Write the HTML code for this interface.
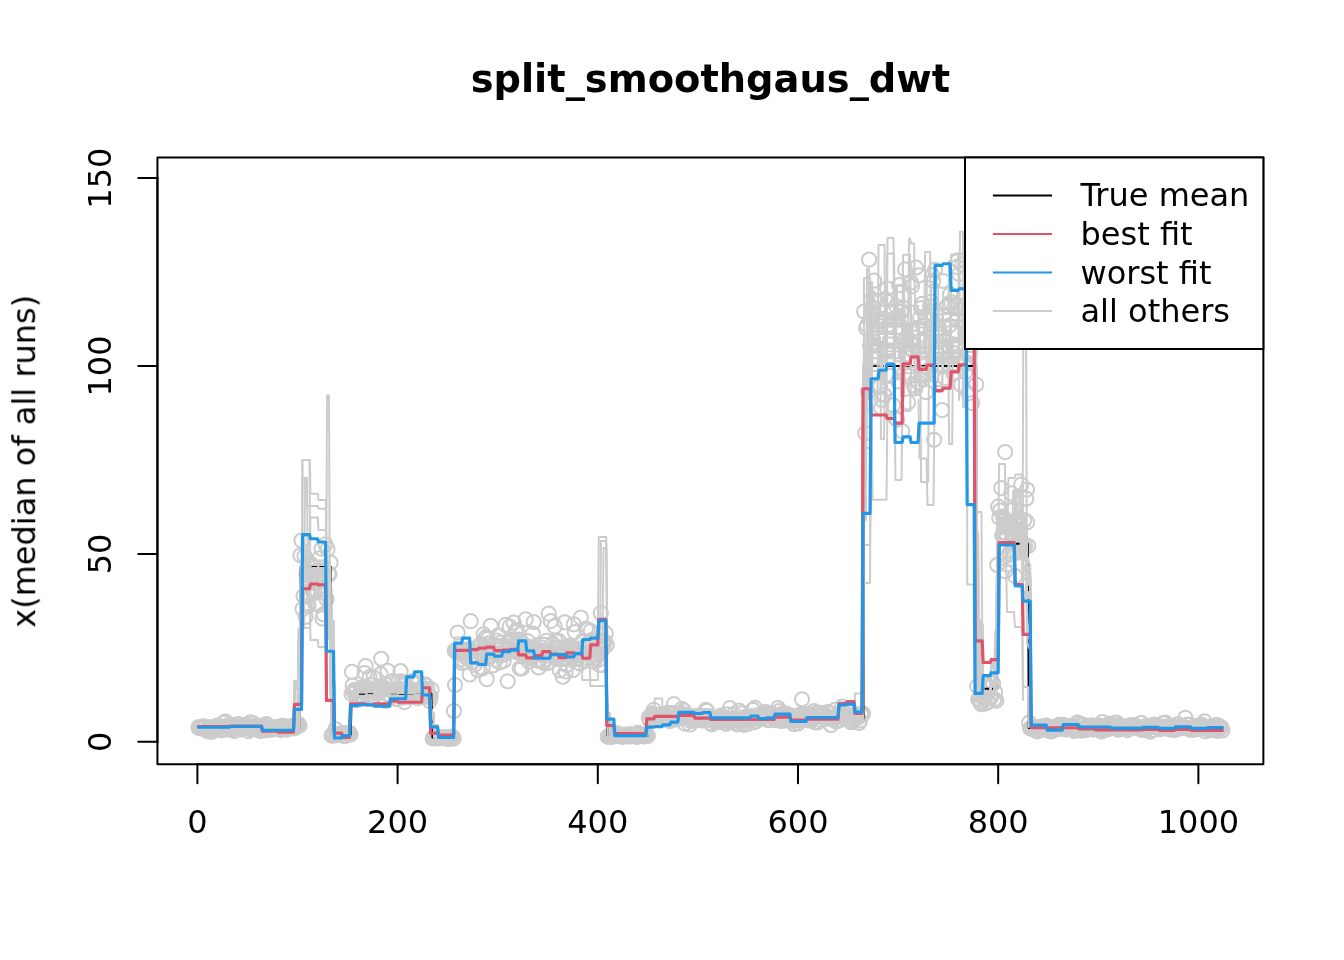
<!DOCTYPE html><html><head><meta charset="utf-8"><title>split_smoothgaus_dwt</title><style>html,body{margin:0;padding:0;background:#fff}svg{display:block}</style></head><body>
<svg width="1344" height="960" viewBox="0 0 1344 960">
<rect width="1344" height="960" fill="#fff"/>
<defs><clipPath id="c"><rect x="157.44" y="157.44" width="1105.92" height="606.72"/></clipPath></defs>
<g clip-path="url(#c)" fill="none" stroke-linejoin="round" stroke-linecap="round">
<g stroke="#cccccc" stroke-width="2"><circle cx="198.4" cy="727.4" r="7.1"/><circle cx="199.4" cy="727.9" r="7.1"/><circle cx="200.4" cy="728.3" r="7.1"/><circle cx="201.4" cy="727.3" r="7.1"/><circle cx="202.4" cy="728.3" r="7.1"/><circle cx="203.4" cy="726.4" r="7.1"/><circle cx="204.4" cy="727.2" r="7.1"/><circle cx="205.4" cy="727.4" r="7.1"/><circle cx="206.4" cy="729.9" r="7.1"/><circle cx="207.4" cy="730.9" r="7.1"/><circle cx="208.4" cy="730.8" r="7.1"/><circle cx="209.4" cy="729.8" r="7.1"/><circle cx="210.4" cy="727.1" r="7.1"/><circle cx="211.4" cy="731.9" r="7.1"/><circle cx="212.4" cy="727.5" r="7.1"/><circle cx="213.4" cy="730.3" r="7.1"/><circle cx="214.4" cy="727.1" r="7.1"/><circle cx="215.4" cy="729.0" r="7.1"/><circle cx="216.4" cy="728.9" r="7.1"/><circle cx="217.4" cy="725.5" r="7.1"/><circle cx="218.4" cy="727.6" r="7.1"/><circle cx="219.4" cy="727.2" r="7.1"/><circle cx="220.4" cy="727.2" r="7.1"/><circle cx="221.4" cy="730.3" r="7.1"/><circle cx="222.4" cy="727.1" r="7.1"/><circle cx="223.4" cy="722.9" r="7.1"/><circle cx="224.4" cy="729.7" r="7.1"/><circle cx="225.4" cy="721.6" r="7.1"/><circle cx="226.4" cy="725.9" r="7.1"/><circle cx="227.4" cy="726.0" r="7.1"/><circle cx="228.4" cy="728.7" r="7.1"/><circle cx="229.4" cy="728.3" r="7.1"/><circle cx="230.4" cy="729.6" r="7.1"/><circle cx="231.4" cy="727.8" r="7.1"/><circle cx="232.4" cy="724.9" r="7.1"/><circle cx="233.4" cy="728.9" r="7.1"/><circle cx="234.4" cy="731.0" r="7.1"/><circle cx="235.4" cy="727.6" r="7.1"/><circle cx="236.4" cy="725.9" r="7.1"/><circle cx="237.4" cy="728.1" r="7.1"/><circle cx="238.4" cy="724.1" r="7.1"/><circle cx="239.4" cy="728.0" r="7.1"/><circle cx="240.4" cy="727.6" r="7.1"/><circle cx="241.4" cy="729.5" r="7.1"/><circle cx="242.4" cy="728.3" r="7.1"/><circle cx="243.4" cy="726.0" r="7.1"/><circle cx="244.4" cy="726.0" r="7.1"/><circle cx="245.4" cy="725.1" r="7.1"/><circle cx="246.4" cy="726.2" r="7.1"/><circle cx="247.4" cy="726.7" r="7.1"/><circle cx="248.4" cy="731.1" r="7.1"/><circle cx="249.5" cy="729.1" r="7.1"/><circle cx="250.5" cy="722.3" r="7.1"/><circle cx="251.5" cy="728.6" r="7.1"/><circle cx="252.5" cy="726.4" r="7.1"/><circle cx="253.5" cy="723.4" r="7.1"/><circle cx="254.5" cy="726.3" r="7.1"/><circle cx="255.5" cy="727.5" r="7.1"/><circle cx="256.5" cy="729.4" r="7.1"/><circle cx="257.5" cy="729.0" r="7.1"/><circle cx="258.5" cy="727.0" r="7.1"/><circle cx="259.5" cy="728.5" r="7.1"/><circle cx="260.5" cy="731.1" r="7.1"/><circle cx="261.5" cy="726.6" r="7.1"/><circle cx="262.5" cy="725.6" r="7.1"/><circle cx="263.5" cy="725.8" r="7.1"/><circle cx="264.5" cy="725.7" r="7.1"/><circle cx="265.5" cy="730.3" r="7.1"/><circle cx="266.5" cy="724.2" r="7.1"/><circle cx="267.5" cy="727.9" r="7.1"/><circle cx="268.5" cy="729.3" r="7.1"/><circle cx="269.5" cy="728.4" r="7.1"/><circle cx="270.5" cy="728.9" r="7.1"/><circle cx="271.5" cy="729.8" r="7.1"/><circle cx="272.5" cy="727.7" r="7.1"/><circle cx="273.5" cy="727.3" r="7.1"/><circle cx="274.5" cy="728.0" r="7.1"/><circle cx="275.5" cy="727.4" r="7.1"/><circle cx="276.5" cy="728.0" r="7.1"/><circle cx="277.5" cy="728.9" r="7.1"/><circle cx="278.5" cy="728.7" r="7.1"/><circle cx="279.5" cy="726.7" r="7.1"/><circle cx="280.5" cy="730.1" r="7.1"/><circle cx="281.5" cy="728.6" r="7.1"/><circle cx="282.5" cy="725.8" r="7.1"/><circle cx="283.5" cy="727.2" r="7.1"/><circle cx="284.5" cy="726.4" r="7.1"/><circle cx="285.5" cy="727.7" r="7.1"/><circle cx="286.5" cy="729.7" r="7.1"/><circle cx="287.5" cy="728.4" r="7.1"/><circle cx="288.5" cy="727.4" r="7.1"/><circle cx="289.5" cy="728.4" r="7.1"/><circle cx="290.5" cy="728.0" r="7.1"/><circle cx="291.5" cy="727.3" r="7.1"/><circle cx="292.5" cy="725.9" r="7.1"/><circle cx="293.5" cy="728.5" r="7.1"/><circle cx="294.5" cy="725.4" r="7.1"/><circle cx="295.5" cy="727.7" r="7.1"/><circle cx="296.5" cy="725.7" r="7.1"/><circle cx="297.5" cy="725.4" r="7.1"/><circle cx="298.5" cy="724.1" r="7.1"/><circle cx="299.5" cy="725.6" r="7.1"/><circle cx="300.5" cy="555.3" r="7.1"/><circle cx="301.5" cy="540.6" r="7.1"/><circle cx="302.5" cy="609.1" r="7.1"/><circle cx="303.5" cy="596.1" r="7.1"/><circle cx="304.5" cy="556.1" r="7.1"/><circle cx="305.5" cy="616.8" r="7.1"/><circle cx="306.5" cy="574.1" r="7.1"/><circle cx="307.5" cy="574.2" r="7.1"/><circle cx="308.5" cy="605.8" r="7.1"/><circle cx="309.5" cy="595.3" r="7.1"/><circle cx="310.5" cy="563.8" r="7.1"/><circle cx="311.5" cy="566.0" r="7.1"/><circle cx="312.5" cy="588.9" r="7.1"/><circle cx="313.5" cy="593.6" r="7.1"/><circle cx="314.5" cy="591.5" r="7.1"/><circle cx="315.5" cy="567.5" r="7.1"/><circle cx="316.5" cy="603.5" r="7.1"/><circle cx="317.5" cy="577.0" r="7.1"/><circle cx="318.5" cy="604.6" r="7.1"/><circle cx="319.5" cy="558.3" r="7.1"/><circle cx="320.5" cy="573.3" r="7.1"/><circle cx="321.5" cy="548.7" r="7.1"/><circle cx="322.5" cy="618.4" r="7.1"/><circle cx="323.5" cy="614.3" r="7.1"/><circle cx="324.5" cy="589.5" r="7.1"/><circle cx="325.5" cy="544.3" r="7.1"/><circle cx="326.5" cy="599.2" r="7.1"/><circle cx="327.5" cy="549.2" r="7.1"/><circle cx="328.5" cy="574.0" r="7.1"/><circle cx="329.5" cy="574.2" r="7.1"/><circle cx="330.5" cy="562.7" r="7.1"/><circle cx="331.5" cy="735.5" r="7.1"/><circle cx="332.5" cy="735.1" r="7.1"/><circle cx="333.5" cy="735.7" r="7.1"/><circle cx="334.5" cy="734.5" r="7.1"/><circle cx="335.5" cy="729.1" r="7.1"/><circle cx="336.5" cy="734.9" r="7.1"/><circle cx="337.5" cy="734.1" r="7.1"/><circle cx="338.5" cy="734.2" r="7.1"/><circle cx="339.5" cy="734.4" r="7.1"/><circle cx="340.5" cy="734.7" r="7.1"/><circle cx="341.5" cy="733.2" r="7.1"/><circle cx="342.5" cy="734.5" r="7.1"/><circle cx="343.5" cy="735.0" r="7.1"/><circle cx="344.5" cy="736.2" r="7.1"/><circle cx="345.5" cy="733.4" r="7.1"/><circle cx="346.5" cy="733.7" r="7.1"/><circle cx="347.5" cy="734.2" r="7.1"/><circle cx="348.5" cy="734.7" r="7.1"/><circle cx="349.5" cy="732.8" r="7.1"/><circle cx="350.5" cy="734.5" r="7.1"/><circle cx="351.6" cy="693.8" r="7.1"/><circle cx="352.6" cy="685.5" r="7.1"/><circle cx="353.6" cy="691.8" r="7.1"/><circle cx="354.6" cy="689.8" r="7.1"/><circle cx="355.6" cy="692.1" r="7.1"/><circle cx="356.6" cy="690.9" r="7.1"/><circle cx="357.6" cy="700.2" r="7.1"/><circle cx="358.6" cy="695.3" r="7.1"/><circle cx="359.6" cy="694.8" r="7.1"/><circle cx="360.6" cy="698.8" r="7.1"/><circle cx="361.6" cy="691.6" r="7.1"/><circle cx="362.6" cy="687.9" r="7.1"/><circle cx="363.6" cy="696.3" r="7.1"/><circle cx="364.6" cy="673.0" r="7.1"/><circle cx="365.6" cy="666.1" r="7.1"/><circle cx="366.6" cy="686.9" r="7.1"/><circle cx="367.6" cy="697.0" r="7.1"/><circle cx="368.6" cy="695.7" r="7.1"/><circle cx="369.6" cy="677.2" r="7.1"/><circle cx="370.6" cy="685.1" r="7.1"/><circle cx="371.6" cy="690.7" r="7.1"/><circle cx="372.6" cy="698.7" r="7.1"/><circle cx="373.6" cy="677.6" r="7.1"/><circle cx="374.6" cy="695.9" r="7.1"/><circle cx="375.6" cy="692.9" r="7.1"/><circle cx="376.6" cy="690.8" r="7.1"/><circle cx="377.6" cy="687.1" r="7.1"/><circle cx="378.6" cy="689.6" r="7.1"/><circle cx="379.6" cy="689.9" r="7.1"/><circle cx="380.6" cy="674.2" r="7.1"/><circle cx="381.6" cy="688.9" r="7.1"/><circle cx="382.6" cy="686.4" r="7.1"/><circle cx="383.6" cy="699.0" r="7.1"/><circle cx="384.6" cy="683.9" r="7.1"/><circle cx="385.6" cy="700.9" r="7.1"/><circle cx="386.6" cy="694.1" r="7.1"/><circle cx="387.6" cy="670.8" r="7.1"/><circle cx="388.6" cy="694.8" r="7.1"/><circle cx="389.6" cy="689.7" r="7.1"/><circle cx="390.6" cy="697.3" r="7.1"/><circle cx="391.6" cy="697.3" r="7.1"/><circle cx="392.6" cy="681.1" r="7.1"/><circle cx="393.6" cy="692.7" r="7.1"/><circle cx="394.6" cy="690.3" r="7.1"/><circle cx="395.6" cy="691.8" r="7.1"/><circle cx="396.6" cy="699.2" r="7.1"/><circle cx="397.6" cy="690.7" r="7.1"/><circle cx="398.6" cy="681.6" r="7.1"/><circle cx="399.6" cy="694.9" r="7.1"/><circle cx="400.6" cy="671.2" r="7.1"/><circle cx="401.6" cy="681.3" r="7.1"/><circle cx="402.6" cy="697.7" r="7.1"/><circle cx="403.6" cy="683.1" r="7.1"/><circle cx="404.6" cy="702.1" r="7.1"/><circle cx="405.6" cy="684.8" r="7.1"/><circle cx="406.6" cy="692.1" r="7.1"/><circle cx="407.6" cy="697.2" r="7.1"/><circle cx="408.6" cy="690.6" r="7.1"/><circle cx="409.6" cy="693.9" r="7.1"/><circle cx="410.6" cy="690.8" r="7.1"/><circle cx="411.6" cy="681.7" r="7.1"/><circle cx="412.6" cy="681.0" r="7.1"/><circle cx="413.6" cy="696.6" r="7.1"/><circle cx="414.6" cy="692.6" r="7.1"/><circle cx="415.6" cy="693.1" r="7.1"/><circle cx="416.6" cy="691.5" r="7.1"/><circle cx="417.6" cy="698.2" r="7.1"/><circle cx="418.6" cy="682.5" r="7.1"/><circle cx="419.6" cy="689.3" r="7.1"/><circle cx="420.6" cy="696.2" r="7.1"/><circle cx="421.6" cy="693.0" r="7.1"/><circle cx="422.6" cy="694.8" r="7.1"/><circle cx="423.6" cy="690.9" r="7.1"/><circle cx="424.6" cy="684.8" r="7.1"/><circle cx="425.6" cy="684.7" r="7.1"/><circle cx="426.6" cy="696.9" r="7.1"/><circle cx="427.6" cy="688.9" r="7.1"/><circle cx="428.6" cy="695.7" r="7.1"/><circle cx="429.6" cy="701.0" r="7.1"/><circle cx="430.6" cy="696.9" r="7.1"/><circle cx="431.6" cy="689.7" r="7.1"/><circle cx="432.6" cy="738.4" r="7.1"/><circle cx="433.6" cy="738.0" r="7.1"/><circle cx="434.6" cy="737.3" r="7.1"/><circle cx="435.6" cy="737.9" r="7.1"/><circle cx="436.6" cy="738.0" r="7.1"/><circle cx="437.6" cy="738.1" r="7.1"/><circle cx="438.6" cy="738.5" r="7.1"/><circle cx="439.6" cy="737.7" r="7.1"/><circle cx="440.6" cy="737.5" r="7.1"/><circle cx="441.6" cy="737.5" r="7.1"/><circle cx="442.6" cy="738.1" r="7.1"/><circle cx="443.6" cy="738.1" r="7.1"/><circle cx="444.6" cy="737.1" r="7.1"/><circle cx="445.6" cy="738.1" r="7.1"/><circle cx="446.6" cy="737.7" r="7.1"/><circle cx="447.6" cy="739.0" r="7.1"/><circle cx="448.6" cy="738.1" r="7.1"/><circle cx="449.6" cy="738.1" r="7.1"/><circle cx="450.6" cy="738.4" r="7.1"/><circle cx="451.6" cy="736.6" r="7.1"/><circle cx="452.6" cy="736.8" r="7.1"/><circle cx="453.7" cy="738.6" r="7.1"/><circle cx="454.7" cy="650.6" r="7.1"/><circle cx="455.7" cy="651.4" r="7.1"/><circle cx="456.7" cy="651.1" r="7.1"/><circle cx="457.7" cy="632.6" r="7.1"/><circle cx="458.7" cy="652.0" r="7.1"/><circle cx="459.7" cy="651.0" r="7.1"/><circle cx="460.7" cy="659.4" r="7.1"/><circle cx="461.7" cy="663.0" r="7.1"/><circle cx="462.7" cy="651.5" r="7.1"/><circle cx="463.7" cy="652.5" r="7.1"/><circle cx="464.7" cy="661.9" r="7.1"/><circle cx="465.7" cy="657.1" r="7.1"/><circle cx="466.7" cy="650.3" r="7.1"/><circle cx="467.7" cy="649.3" r="7.1"/><circle cx="468.7" cy="657.9" r="7.1"/><circle cx="469.7" cy="674.4" r="7.1"/><circle cx="470.7" cy="621.2" r="7.1"/><circle cx="471.7" cy="655.6" r="7.1"/><circle cx="472.7" cy="662.2" r="7.1"/><circle cx="473.7" cy="657.1" r="7.1"/><circle cx="474.7" cy="664.8" r="7.1"/><circle cx="475.7" cy="648.3" r="7.1"/><circle cx="476.7" cy="655.7" r="7.1"/><circle cx="477.7" cy="670.0" r="7.1"/><circle cx="478.7" cy="647.0" r="7.1"/><circle cx="479.7" cy="645.2" r="7.1"/><circle cx="480.7" cy="653.5" r="7.1"/><circle cx="481.7" cy="644.5" r="7.1"/><circle cx="482.7" cy="668.3" r="7.1"/><circle cx="483.7" cy="634.3" r="7.1"/><circle cx="484.7" cy="647.2" r="7.1"/><circle cx="485.7" cy="637.5" r="7.1"/><circle cx="486.7" cy="679.1" r="7.1"/><circle cx="487.7" cy="638.8" r="7.1"/><circle cx="488.7" cy="658.1" r="7.1"/><circle cx="489.7" cy="654.9" r="7.1"/><circle cx="490.7" cy="625.8" r="7.1"/><circle cx="491.7" cy="651.5" r="7.1"/><circle cx="492.7" cy="665.5" r="7.1"/><circle cx="493.7" cy="644.6" r="7.1"/><circle cx="494.7" cy="648.8" r="7.1"/><circle cx="495.7" cy="659.8" r="7.1"/><circle cx="496.7" cy="640.5" r="7.1"/><circle cx="497.7" cy="635.7" r="7.1"/><circle cx="498.7" cy="654.1" r="7.1"/><circle cx="499.7" cy="662.5" r="7.1"/><circle cx="500.7" cy="642.5" r="7.1"/><circle cx="501.7" cy="646.2" r="7.1"/><circle cx="502.7" cy="654.8" r="7.1"/><circle cx="503.7" cy="660.9" r="7.1"/><circle cx="504.7" cy="654.4" r="7.1"/><circle cx="505.7" cy="624.9" r="7.1"/><circle cx="506.7" cy="650.4" r="7.1"/><circle cx="507.7" cy="681.3" r="7.1"/><circle cx="508.7" cy="643.0" r="7.1"/><circle cx="509.7" cy="626.5" r="7.1"/><circle cx="510.7" cy="646.1" r="7.1"/><circle cx="511.7" cy="639.7" r="7.1"/><circle cx="512.7" cy="650.7" r="7.1"/><circle cx="513.7" cy="622.6" r="7.1"/><circle cx="514.7" cy="650.8" r="7.1"/><circle cx="515.7" cy="631.8" r="7.1"/><circle cx="516.7" cy="630.0" r="7.1"/><circle cx="517.7" cy="652.6" r="7.1"/><circle cx="518.7" cy="639.7" r="7.1"/><circle cx="519.7" cy="668.3" r="7.1"/><circle cx="520.7" cy="645.8" r="7.1"/><circle cx="521.7" cy="668.4" r="7.1"/><circle cx="522.7" cy="643.7" r="7.1"/><circle cx="523.7" cy="656.2" r="7.1"/><circle cx="524.7" cy="653.3" r="7.1"/><circle cx="525.7" cy="619.3" r="7.1"/><circle cx="526.7" cy="647.5" r="7.1"/><circle cx="527.7" cy="641.2" r="7.1"/><circle cx="528.7" cy="661.6" r="7.1"/><circle cx="529.7" cy="654.6" r="7.1"/><circle cx="530.7" cy="647.4" r="7.1"/><circle cx="531.7" cy="658.1" r="7.1"/><circle cx="532.7" cy="633.7" r="7.1"/><circle cx="533.7" cy="622.0" r="7.1"/><circle cx="534.7" cy="647.4" r="7.1"/><circle cx="535.7" cy="651.8" r="7.1"/><circle cx="536.7" cy="648.7" r="7.1"/><circle cx="537.7" cy="660.5" r="7.1"/><circle cx="538.7" cy="667.5" r="7.1"/><circle cx="539.7" cy="659.6" r="7.1"/><circle cx="540.7" cy="647.4" r="7.1"/><circle cx="541.7" cy="654.4" r="7.1"/><circle cx="542.7" cy="661.2" r="7.1"/><circle cx="543.7" cy="662.8" r="7.1"/><circle cx="544.7" cy="650.6" r="7.1"/><circle cx="545.7" cy="654.7" r="7.1"/><circle cx="546.7" cy="640.9" r="7.1"/><circle cx="547.7" cy="662.9" r="7.1"/><circle cx="548.7" cy="613.6" r="7.1"/><circle cx="549.7" cy="651.6" r="7.1"/><circle cx="550.7" cy="621.1" r="7.1"/><circle cx="551.7" cy="654.8" r="7.1"/><circle cx="552.7" cy="643.7" r="7.1"/><circle cx="553.7" cy="656.6" r="7.1"/><circle cx="554.7" cy="626.4" r="7.1"/><circle cx="555.8" cy="641.1" r="7.1"/><circle cx="556.8" cy="659.1" r="7.1"/><circle cx="557.8" cy="652.7" r="7.1"/><circle cx="558.8" cy="641.1" r="7.1"/><circle cx="559.8" cy="670.3" r="7.1"/><circle cx="560.8" cy="659.4" r="7.1"/><circle cx="561.8" cy="657.8" r="7.1"/><circle cx="562.8" cy="676.8" r="7.1"/><circle cx="563.8" cy="646.9" r="7.1"/><circle cx="564.8" cy="622.3" r="7.1"/><circle cx="565.8" cy="671.5" r="7.1"/><circle cx="566.8" cy="664.9" r="7.1"/><circle cx="567.8" cy="649.2" r="7.1"/><circle cx="568.8" cy="645.7" r="7.1"/><circle cx="569.8" cy="646.3" r="7.1"/><circle cx="570.8" cy="654.2" r="7.1"/><circle cx="571.8" cy="657.0" r="7.1"/><circle cx="572.8" cy="670.2" r="7.1"/><circle cx="573.8" cy="624.3" r="7.1"/><circle cx="574.8" cy="632.1" r="7.1"/><circle cx="575.8" cy="658.6" r="7.1"/><circle cx="576.8" cy="650.9" r="7.1"/><circle cx="577.8" cy="653.9" r="7.1"/><circle cx="578.8" cy="655.7" r="7.1"/><circle cx="579.8" cy="663.5" r="7.1"/><circle cx="580.8" cy="617.6" r="7.1"/><circle cx="581.8" cy="653.2" r="7.1"/><circle cx="582.8" cy="640.8" r="7.1"/><circle cx="583.8" cy="652.8" r="7.1"/><circle cx="584.8" cy="646.7" r="7.1"/><circle cx="585.8" cy="628.7" r="7.1"/><circle cx="586.8" cy="649.1" r="7.1"/><circle cx="587.8" cy="629.7" r="7.1"/><circle cx="588.8" cy="658.6" r="7.1"/><circle cx="589.8" cy="641.4" r="7.1"/><circle cx="590.8" cy="631.1" r="7.1"/><circle cx="591.8" cy="640.2" r="7.1"/><circle cx="592.8" cy="658.5" r="7.1"/><circle cx="593.8" cy="661.5" r="7.1"/><circle cx="594.8" cy="654.9" r="7.1"/><circle cx="595.8" cy="658.3" r="7.1"/><circle cx="596.8" cy="646.1" r="7.1"/><circle cx="597.8" cy="652.7" r="7.1"/><circle cx="598.8" cy="659.6" r="7.1"/><circle cx="599.8" cy="665.0" r="7.1"/><circle cx="600.8" cy="613.0" r="7.1"/><circle cx="601.8" cy="650.9" r="7.1"/><circle cx="602.8" cy="640.9" r="7.1"/><circle cx="603.8" cy="645.5" r="7.1"/><circle cx="604.8" cy="641.8" r="7.1"/><circle cx="605.8" cy="633.4" r="7.1"/><circle cx="606.8" cy="645.1" r="7.1"/><circle cx="607.8" cy="736.8" r="7.1"/><circle cx="608.8" cy="735.9" r="7.1"/><circle cx="609.8" cy="736.7" r="7.1"/><circle cx="610.8" cy="735.5" r="7.1"/><circle cx="611.8" cy="737.0" r="7.1"/><circle cx="612.8" cy="735.7" r="7.1"/><circle cx="613.8" cy="735.6" r="7.1"/><circle cx="614.8" cy="735.2" r="7.1"/><circle cx="615.8" cy="735.7" r="7.1"/><circle cx="616.8" cy="733.1" r="7.1"/><circle cx="617.8" cy="736.0" r="7.1"/><circle cx="618.8" cy="734.9" r="7.1"/><circle cx="619.8" cy="736.1" r="7.1"/><circle cx="620.8" cy="736.4" r="7.1"/><circle cx="621.8" cy="736.0" r="7.1"/><circle cx="622.8" cy="736.8" r="7.1"/><circle cx="623.8" cy="735.5" r="7.1"/><circle cx="624.8" cy="734.6" r="7.1"/><circle cx="625.8" cy="734.9" r="7.1"/><circle cx="626.8" cy="735.7" r="7.1"/><circle cx="627.8" cy="735.1" r="7.1"/><circle cx="628.8" cy="736.6" r="7.1"/><circle cx="629.8" cy="734.3" r="7.1"/><circle cx="630.8" cy="734.6" r="7.1"/><circle cx="631.8" cy="734.8" r="7.1"/><circle cx="632.8" cy="735.8" r="7.1"/><circle cx="633.8" cy="735.0" r="7.1"/><circle cx="634.8" cy="735.7" r="7.1"/><circle cx="635.8" cy="734.5" r="7.1"/><circle cx="636.8" cy="737.0" r="7.1"/><circle cx="637.8" cy="732.9" r="7.1"/><circle cx="638.8" cy="734.4" r="7.1"/><circle cx="639.8" cy="734.9" r="7.1"/><circle cx="640.8" cy="734.9" r="7.1"/><circle cx="641.8" cy="734.9" r="7.1"/><circle cx="642.8" cy="735.5" r="7.1"/><circle cx="643.8" cy="736.4" r="7.1"/><circle cx="644.8" cy="735.2" r="7.1"/><circle cx="645.8" cy="736.0" r="7.1"/><circle cx="646.8" cy="735.9" r="7.1"/><circle cx="647.8" cy="735.8" r="7.1"/><circle cx="648.8" cy="717.6" r="7.1"/><circle cx="649.8" cy="720.6" r="7.1"/><circle cx="650.8" cy="715.2" r="7.1"/><circle cx="651.8" cy="716.9" r="7.1"/><circle cx="652.8" cy="713.4" r="7.1"/><circle cx="653.8" cy="709.9" r="7.1"/><circle cx="654.8" cy="714.9" r="7.1"/><circle cx="655.8" cy="717.1" r="7.1"/><circle cx="656.8" cy="715.0" r="7.1"/><circle cx="657.8" cy="717.7" r="7.1"/><circle cx="658.9" cy="716.9" r="7.1"/><circle cx="659.9" cy="716.5" r="7.1"/><circle cx="660.9" cy="717.4" r="7.1"/><circle cx="661.9" cy="719.2" r="7.1"/><circle cx="662.9" cy="714.3" r="7.1"/><circle cx="663.9" cy="717.0" r="7.1"/><circle cx="664.9" cy="713.8" r="7.1"/><circle cx="665.9" cy="719.8" r="7.1"/><circle cx="666.9" cy="716.4" r="7.1"/><circle cx="667.9" cy="713.2" r="7.1"/><circle cx="668.9" cy="713.2" r="7.1"/><circle cx="669.9" cy="721.1" r="7.1"/><circle cx="670.9" cy="717.8" r="7.1"/><circle cx="671.9" cy="718.7" r="7.1"/><circle cx="672.9" cy="713.2" r="7.1"/><circle cx="673.9" cy="704.2" r="7.1"/><circle cx="674.9" cy="719.6" r="7.1"/><circle cx="675.9" cy="717.6" r="7.1"/><circle cx="676.9" cy="719.1" r="7.1"/><circle cx="677.9" cy="717.4" r="7.1"/><circle cx="678.9" cy="718.9" r="7.1"/><circle cx="679.9" cy="716.8" r="7.1"/><circle cx="680.9" cy="713.2" r="7.1"/><circle cx="681.9" cy="708.9" r="7.1"/><circle cx="682.9" cy="714.6" r="7.1"/><circle cx="683.9" cy="710.6" r="7.1"/><circle cx="684.9" cy="723.6" r="7.1"/><circle cx="685.9" cy="715.2" r="7.1"/><circle cx="686.9" cy="714.9" r="7.1"/><circle cx="687.9" cy="715.9" r="7.1"/><circle cx="688.9" cy="717.8" r="7.1"/><circle cx="689.9" cy="724.4" r="7.1"/><circle cx="690.9" cy="720.9" r="7.1"/><circle cx="691.9" cy="718.3" r="7.1"/><circle cx="692.9" cy="716.2" r="7.1"/><circle cx="693.9" cy="720.5" r="7.1"/><circle cx="694.9" cy="717.6" r="7.1"/><circle cx="695.9" cy="718.0" r="7.1"/><circle cx="696.9" cy="718.0" r="7.1"/><circle cx="697.9" cy="717.4" r="7.1"/><circle cx="698.9" cy="715.5" r="7.1"/><circle cx="699.9" cy="718.6" r="7.1"/><circle cx="700.9" cy="718.0" r="7.1"/><circle cx="701.9" cy="720.4" r="7.1"/><circle cx="702.9" cy="718.8" r="7.1"/><circle cx="703.9" cy="720.2" r="7.1"/><circle cx="704.9" cy="716.1" r="7.1"/><circle cx="705.9" cy="709.9" r="7.1"/><circle cx="706.9" cy="710.9" r="7.1"/><circle cx="707.9" cy="719.7" r="7.1"/><circle cx="708.9" cy="716.0" r="7.1"/><circle cx="709.9" cy="717.3" r="7.1"/><circle cx="710.9" cy="723.2" r="7.1"/><circle cx="711.9" cy="724.3" r="7.1"/><circle cx="712.9" cy="719.9" r="7.1"/><circle cx="713.9" cy="718.2" r="7.1"/><circle cx="714.9" cy="722.1" r="7.1"/><circle cx="715.9" cy="721.0" r="7.1"/><circle cx="716.9" cy="720.6" r="7.1"/><circle cx="717.9" cy="720.9" r="7.1"/><circle cx="718.9" cy="721.9" r="7.1"/><circle cx="719.9" cy="718.6" r="7.1"/><circle cx="720.9" cy="715.5" r="7.1"/><circle cx="721.9" cy="716.8" r="7.1"/><circle cx="722.9" cy="720.7" r="7.1"/><circle cx="723.9" cy="718.3" r="7.1"/><circle cx="724.9" cy="717.6" r="7.1"/><circle cx="725.9" cy="723.7" r="7.1"/><circle cx="726.9" cy="714.4" r="7.1"/><circle cx="727.9" cy="720.1" r="7.1"/><circle cx="728.9" cy="721.9" r="7.1"/><circle cx="729.9" cy="708.2" r="7.1"/><circle cx="730.9" cy="721.1" r="7.1"/><circle cx="731.9" cy="718.9" r="7.1"/><circle cx="732.9" cy="720.2" r="7.1"/><circle cx="733.9" cy="714.3" r="7.1"/><circle cx="734.9" cy="718.7" r="7.1"/><circle cx="735.9" cy="722.4" r="7.1"/><circle cx="736.9" cy="724.3" r="7.1"/><circle cx="737.9" cy="719.6" r="7.1"/><circle cx="738.9" cy="710.5" r="7.1"/><circle cx="739.9" cy="721.2" r="7.1"/><circle cx="740.9" cy="713.3" r="7.1"/><circle cx="741.9" cy="720.6" r="7.1"/><circle cx="742.9" cy="722.6" r="7.1"/><circle cx="743.9" cy="724.8" r="7.1"/><circle cx="744.9" cy="718.4" r="7.1"/><circle cx="745.9" cy="716.9" r="7.1"/><circle cx="746.9" cy="718.2" r="7.1"/><circle cx="747.9" cy="724.1" r="7.1"/><circle cx="748.9" cy="719.9" r="7.1"/><circle cx="749.9" cy="716.7" r="7.1"/><circle cx="750.9" cy="719.6" r="7.1"/><circle cx="751.9" cy="716.3" r="7.1"/><circle cx="752.9" cy="709.8" r="7.1"/><circle cx="753.9" cy="722.2" r="7.1"/><circle cx="754.9" cy="707.9" r="7.1"/><circle cx="755.9" cy="721.3" r="7.1"/><circle cx="756.9" cy="718.2" r="7.1"/><circle cx="757.9" cy="718.2" r="7.1"/><circle cx="758.9" cy="714.9" r="7.1"/><circle cx="759.9" cy="719.0" r="7.1"/><circle cx="761.0" cy="717.7" r="7.1"/><circle cx="762.0" cy="718.1" r="7.1"/><circle cx="763.0" cy="716.2" r="7.1"/><circle cx="764.0" cy="716.3" r="7.1"/><circle cx="765.0" cy="712.0" r="7.1"/><circle cx="766.0" cy="714.8" r="7.1"/><circle cx="767.0" cy="712.6" r="7.1"/><circle cx="768.0" cy="720.0" r="7.1"/><circle cx="769.0" cy="719.7" r="7.1"/><circle cx="770.0" cy="719.9" r="7.1"/><circle cx="771.0" cy="720.1" r="7.1"/><circle cx="772.0" cy="713.5" r="7.1"/><circle cx="773.0" cy="717.6" r="7.1"/><circle cx="774.0" cy="715.2" r="7.1"/><circle cx="775.0" cy="720.0" r="7.1"/><circle cx="776.0" cy="716.4" r="7.1"/><circle cx="777.0" cy="719.2" r="7.1"/><circle cx="778.0" cy="708.1" r="7.1"/><circle cx="779.0" cy="711.2" r="7.1"/><circle cx="780.0" cy="715.3" r="7.1"/><circle cx="781.0" cy="720.9" r="7.1"/><circle cx="782.0" cy="713.9" r="7.1"/><circle cx="783.0" cy="717.2" r="7.1"/><circle cx="784.0" cy="720.3" r="7.1"/><circle cx="785.0" cy="718.1" r="7.1"/><circle cx="786.0" cy="713.7" r="7.1"/><circle cx="787.0" cy="720.2" r="7.1"/><circle cx="788.0" cy="720.5" r="7.1"/><circle cx="789.0" cy="717.3" r="7.1"/><circle cx="790.0" cy="718.7" r="7.1"/><circle cx="791.0" cy="715.7" r="7.1"/><circle cx="792.0" cy="718.3" r="7.1"/><circle cx="793.0" cy="721.2" r="7.1"/><circle cx="794.0" cy="724.2" r="7.1"/><circle cx="795.0" cy="716.7" r="7.1"/><circle cx="796.0" cy="720.2" r="7.1"/><circle cx="797.0" cy="717.5" r="7.1"/><circle cx="798.0" cy="723.4" r="7.1"/><circle cx="799.0" cy="720.3" r="7.1"/><circle cx="800.0" cy="716.7" r="7.1"/><circle cx="801.0" cy="714.3" r="7.1"/><circle cx="802.0" cy="699.3" r="7.1"/><circle cx="803.0" cy="713.4" r="7.1"/><circle cx="804.0" cy="718.0" r="7.1"/><circle cx="805.0" cy="714.6" r="7.1"/><circle cx="806.0" cy="716.8" r="7.1"/><circle cx="807.0" cy="718.7" r="7.1"/><circle cx="808.0" cy="719.4" r="7.1"/><circle cx="809.0" cy="720.4" r="7.1"/><circle cx="810.0" cy="714.3" r="7.1"/><circle cx="811.0" cy="717.8" r="7.1"/><circle cx="812.0" cy="720.2" r="7.1"/><circle cx="813.0" cy="718.3" r="7.1"/><circle cx="814.0" cy="711.0" r="7.1"/><circle cx="815.0" cy="722.3" r="7.1"/><circle cx="816.0" cy="722.1" r="7.1"/><circle cx="817.0" cy="712.8" r="7.1"/><circle cx="818.0" cy="722.3" r="7.1"/><circle cx="819.0" cy="712.9" r="7.1"/><circle cx="820.0" cy="719.7" r="7.1"/><circle cx="821.0" cy="716.5" r="7.1"/><circle cx="822.0" cy="713.2" r="7.1"/><circle cx="823.0" cy="713.2" r="7.1"/><circle cx="824.0" cy="715.2" r="7.1"/><circle cx="825.0" cy="717.9" r="7.1"/><circle cx="826.0" cy="718.8" r="7.1"/><circle cx="827.0" cy="718.7" r="7.1"/><circle cx="828.0" cy="712.2" r="7.1"/><circle cx="829.0" cy="716.7" r="7.1"/><circle cx="830.0" cy="713.7" r="7.1"/><circle cx="831.0" cy="725.0" r="7.1"/><circle cx="832.0" cy="719.0" r="7.1"/><circle cx="833.0" cy="716.8" r="7.1"/><circle cx="834.0" cy="719.1" r="7.1"/><circle cx="835.0" cy="709.9" r="7.1"/><circle cx="836.0" cy="721.5" r="7.1"/><circle cx="837.0" cy="716.0" r="7.1"/><circle cx="838.0" cy="714.7" r="7.1"/><circle cx="839.0" cy="720.5" r="7.1"/><circle cx="840.0" cy="714.8" r="7.1"/><circle cx="841.0" cy="716.3" r="7.1"/><circle cx="842.0" cy="706.5" r="7.1"/><circle cx="843.0" cy="712.5" r="7.1"/><circle cx="844.0" cy="717.9" r="7.1"/><circle cx="845.0" cy="714.3" r="7.1"/><circle cx="846.0" cy="716.4" r="7.1"/><circle cx="847.0" cy="719.3" r="7.1"/><circle cx="848.0" cy="715.5" r="7.1"/><circle cx="849.0" cy="716.0" r="7.1"/><circle cx="850.0" cy="711.9" r="7.1"/><circle cx="851.0" cy="722.2" r="7.1"/><circle cx="852.0" cy="722.1" r="7.1"/><circle cx="853.0" cy="720.3" r="7.1"/><circle cx="854.0" cy="715.4" r="7.1"/><circle cx="855.0" cy="713.9" r="7.1"/><circle cx="856.0" cy="718.2" r="7.1"/><circle cx="857.0" cy="716.9" r="7.1"/><circle cx="858.0" cy="717.6" r="7.1"/><circle cx="859.0" cy="722.9" r="7.1"/><circle cx="860.0" cy="720.5" r="7.1"/><circle cx="861.0" cy="714.5" r="7.1"/><circle cx="862.0" cy="714.8" r="7.1"/><circle cx="863.1" cy="713.5" r="7.1"/><circle cx="864.1" cy="311.5" r="7.1"/><circle cx="865.1" cy="433.3" r="7.1"/><circle cx="866.1" cy="328.3" r="7.1"/><circle cx="867.1" cy="325.5" r="7.1"/><circle cx="868.1" cy="391.9" r="7.1"/><circle cx="869.1" cy="259.6" r="7.1"/><circle cx="870.1" cy="346.1" r="7.1"/><circle cx="871.1" cy="300.4" r="7.1"/><circle cx="872.1" cy="307.5" r="7.1"/><circle cx="873.1" cy="314.9" r="7.1"/><circle cx="874.1" cy="280.7" r="7.1"/><circle cx="875.1" cy="345.8" r="7.1"/><circle cx="876.1" cy="300.4" r="7.1"/><circle cx="877.1" cy="321.4" r="7.1"/><circle cx="878.1" cy="387.3" r="7.1"/><circle cx="879.1" cy="326.2" r="7.1"/><circle cx="880.1" cy="386.4" r="7.1"/><circle cx="881.1" cy="407.8" r="7.1"/><circle cx="882.1" cy="400.0" r="7.1"/><circle cx="883.1" cy="320.5" r="7.1"/><circle cx="884.1" cy="395.0" r="7.1"/><circle cx="885.1" cy="299.2" r="7.1"/><circle cx="886.1" cy="350.4" r="7.1"/><circle cx="887.1" cy="288.5" r="7.1"/><circle cx="888.1" cy="388.3" r="7.1"/><circle cx="889.1" cy="324.8" r="7.1"/><circle cx="890.1" cy="375.9" r="7.1"/><circle cx="891.1" cy="313.4" r="7.1"/><circle cx="892.1" cy="311.6" r="7.1"/><circle cx="893.1" cy="405.3" r="7.1"/><circle cx="894.1" cy="320.2" r="7.1"/><circle cx="895.1" cy="417.9" r="7.1"/><circle cx="896.1" cy="306.0" r="7.1"/><circle cx="897.1" cy="419.7" r="7.1"/><circle cx="898.1" cy="381.3" r="7.1"/><circle cx="899.1" cy="285.2" r="7.1"/><circle cx="900.1" cy="331.2" r="7.1"/><circle cx="901.1" cy="311.4" r="7.1"/><circle cx="902.1" cy="431.1" r="7.1"/><circle cx="903.1" cy="307.9" r="7.1"/><circle cx="904.1" cy="373.1" r="7.1"/><circle cx="905.1" cy="269.4" r="7.1"/><circle cx="906.1" cy="338.1" r="7.1"/><circle cx="907.1" cy="344.4" r="7.1"/><circle cx="908.1" cy="402.4" r="7.1"/><circle cx="909.1" cy="376.1" r="7.1"/><circle cx="910.1" cy="341.7" r="7.1"/><circle cx="911.1" cy="282.4" r="7.1"/><circle cx="912.1" cy="286.3" r="7.1"/><circle cx="913.1" cy="350.8" r="7.1"/><circle cx="914.1" cy="385.5" r="7.1"/><circle cx="915.1" cy="388.5" r="7.1"/><circle cx="916.1" cy="267.5" r="7.1"/><circle cx="917.1" cy="328.1" r="7.1"/><circle cx="918.1" cy="382.1" r="7.1"/><circle cx="919.1" cy="275.4" r="7.1"/><circle cx="920.1" cy="317.4" r="7.1"/><circle cx="921.1" cy="308.1" r="7.1"/><circle cx="922.1" cy="303.9" r="7.1"/><circle cx="923.1" cy="325.8" r="7.1"/><circle cx="924.1" cy="360.3" r="7.1"/><circle cx="925.1" cy="374.1" r="7.1"/><circle cx="926.1" cy="392.2" r="7.1"/><circle cx="927.1" cy="374.9" r="7.1"/><circle cx="928.1" cy="318.6" r="7.1"/><circle cx="929.1" cy="369.4" r="7.1"/><circle cx="930.1" cy="306.3" r="7.1"/><circle cx="931.1" cy="301.8" r="7.1"/><circle cx="932.1" cy="275.0" r="7.1"/><circle cx="933.1" cy="280.9" r="7.1"/><circle cx="934.1" cy="439.8" r="7.1"/><circle cx="935.1" cy="269.9" r="7.1"/><circle cx="936.1" cy="330.4" r="7.1"/><circle cx="937.1" cy="333.1" r="7.1"/><circle cx="938.1" cy="364.3" r="7.1"/><circle cx="939.1" cy="328.2" r="7.1"/><circle cx="940.1" cy="334.0" r="7.1"/><circle cx="941.1" cy="365.6" r="7.1"/><circle cx="942.1" cy="410.1" r="7.1"/><circle cx="943.1" cy="281.0" r="7.1"/><circle cx="944.1" cy="315.4" r="7.1"/><circle cx="945.1" cy="378.2" r="7.1"/><circle cx="946.1" cy="357.8" r="7.1"/><circle cx="947.1" cy="306.0" r="7.1"/><circle cx="948.1" cy="360.2" r="7.1"/><circle cx="949.1" cy="325.7" r="7.1"/><circle cx="950.1" cy="294.2" r="7.1"/><circle cx="951.1" cy="302.2" r="7.1"/><circle cx="952.1" cy="344.2" r="7.1"/><circle cx="953.1" cy="372.9" r="7.1"/><circle cx="954.1" cy="353.1" r="7.1"/><circle cx="955.1" cy="306.4" r="7.1"/><circle cx="956.1" cy="345.2" r="7.1"/><circle cx="957.1" cy="266.9" r="7.1"/><circle cx="958.1" cy="260.4" r="7.1"/><circle cx="959.1" cy="273.9" r="7.1"/><circle cx="960.1" cy="307.5" r="7.1"/><circle cx="961.1" cy="384.9" r="7.1"/><circle cx="962.1" cy="264.5" r="7.1"/><circle cx="963.1" cy="305.5" r="7.1"/><circle cx="964.1" cy="363.8" r="7.1"/><circle cx="965.2" cy="372.2" r="7.1"/><circle cx="966.2" cy="362.3" r="7.1"/><circle cx="967.2" cy="331.2" r="7.1"/><circle cx="968.2" cy="393.3" r="7.1"/><circle cx="969.2" cy="287.4" r="7.1"/><circle cx="970.2" cy="352.0" r="7.1"/><circle cx="971.2" cy="314.1" r="7.1"/><circle cx="972.2" cy="403.1" r="7.1"/><circle cx="973.2" cy="296.5" r="7.1"/><circle cx="974.2" cy="294.6" r="7.1"/><circle cx="975.2" cy="341.9" r="7.1"/><circle cx="976.2" cy="384.5" r="7.1"/><circle cx="977.2" cy="686.2" r="7.1"/><circle cx="978.2" cy="699.2" r="7.1"/><circle cx="979.2" cy="699.3" r="7.1"/><circle cx="980.2" cy="702.2" r="7.1"/><circle cx="981.2" cy="704.2" r="7.1"/><circle cx="982.2" cy="697.2" r="7.1"/><circle cx="983.2" cy="696.5" r="7.1"/><circle cx="984.2" cy="699.3" r="7.1"/><circle cx="985.2" cy="703.4" r="7.1"/><circle cx="986.2" cy="686.4" r="7.1"/><circle cx="987.2" cy="685.6" r="7.1"/><circle cx="988.2" cy="702.0" r="7.1"/><circle cx="989.2" cy="687.9" r="7.1"/><circle cx="990.2" cy="696.5" r="7.1"/><circle cx="991.2" cy="697.2" r="7.1"/><circle cx="992.2" cy="682.6" r="7.1"/><circle cx="993.2" cy="683.4" r="7.1"/><circle cx="994.2" cy="699.5" r="7.1"/><circle cx="995.2" cy="692.1" r="7.1"/><circle cx="996.2" cy="700.7" r="7.1"/><circle cx="997.2" cy="565.0" r="7.1"/><circle cx="998.2" cy="506.7" r="7.1"/><circle cx="999.2" cy="517.5" r="7.1"/><circle cx="1000.2" cy="510.6" r="7.1"/><circle cx="1001.2" cy="488.1" r="7.1"/><circle cx="1002.2" cy="535.3" r="7.1"/><circle cx="1003.2" cy="516.7" r="7.1"/><circle cx="1004.2" cy="525.0" r="7.1"/><circle cx="1005.2" cy="571.2" r="7.1"/><circle cx="1006.2" cy="533.6" r="7.1"/><circle cx="1007.2" cy="564.4" r="7.1"/><circle cx="1008.2" cy="527.8" r="7.1"/><circle cx="1009.2" cy="553.3" r="7.1"/><circle cx="1010.2" cy="555.1" r="7.1"/><circle cx="1011.2" cy="493.4" r="7.1"/><circle cx="1012.2" cy="539.0" r="7.1"/><circle cx="1013.2" cy="536.0" r="7.1"/><circle cx="1014.2" cy="521.4" r="7.1"/><circle cx="1015.2" cy="576.1" r="7.1"/><circle cx="1016.2" cy="550.4" r="7.1"/><circle cx="1017.2" cy="546.9" r="7.1"/><circle cx="1018.2" cy="519.4" r="7.1"/><circle cx="1019.2" cy="523.8" r="7.1"/><circle cx="1020.2" cy="544.0" r="7.1"/><circle cx="1021.2" cy="484.5" r="7.1"/><circle cx="1022.2" cy="541.9" r="7.1"/><circle cx="1023.2" cy="547.8" r="7.1"/><circle cx="1024.2" cy="520.2" r="7.1"/><circle cx="1025.2" cy="546.0" r="7.1"/><circle cx="1026.2" cy="498.7" r="7.1"/><circle cx="1027.2" cy="522.2" r="7.1"/><circle cx="1028.2" cy="546.0" r="7.1"/><circle cx="1029.2" cy="722.7" r="7.1"/><circle cx="1030.2" cy="728.5" r="7.1"/><circle cx="1031.2" cy="727.8" r="7.1"/><circle cx="1032.2" cy="727.1" r="7.1"/><circle cx="1033.2" cy="727.1" r="7.1"/><circle cx="1034.2" cy="726.9" r="7.1"/><circle cx="1035.2" cy="730.2" r="7.1"/><circle cx="1036.2" cy="727.6" r="7.1"/><circle cx="1037.2" cy="731.4" r="7.1"/><circle cx="1038.2" cy="728.3" r="7.1"/><circle cx="1039.2" cy="728.0" r="7.1"/><circle cx="1040.2" cy="726.7" r="7.1"/><circle cx="1041.2" cy="729.3" r="7.1"/><circle cx="1042.2" cy="727.2" r="7.1"/><circle cx="1043.2" cy="728.6" r="7.1"/><circle cx="1044.2" cy="727.6" r="7.1"/><circle cx="1045.2" cy="729.5" r="7.1"/><circle cx="1046.2" cy="725.7" r="7.1"/><circle cx="1047.2" cy="725.9" r="7.1"/><circle cx="1048.2" cy="730.7" r="7.1"/><circle cx="1049.2" cy="728.3" r="7.1"/><circle cx="1050.2" cy="728.5" r="7.1"/><circle cx="1051.2" cy="731.4" r="7.1"/><circle cx="1052.2" cy="730.2" r="7.1"/><circle cx="1053.2" cy="728.3" r="7.1"/><circle cx="1054.2" cy="730.1" r="7.1"/><circle cx="1055.2" cy="727.5" r="7.1"/><circle cx="1056.2" cy="726.3" r="7.1"/><circle cx="1057.2" cy="729.0" r="7.1"/><circle cx="1058.2" cy="726.6" r="7.1"/><circle cx="1059.2" cy="724.9" r="7.1"/><circle cx="1060.2" cy="729.0" r="7.1"/><circle cx="1061.2" cy="725.3" r="7.1"/><circle cx="1062.2" cy="725.3" r="7.1"/><circle cx="1063.2" cy="724.9" r="7.1"/><circle cx="1064.2" cy="727.7" r="7.1"/><circle cx="1065.2" cy="727.2" r="7.1"/><circle cx="1066.2" cy="729.3" r="7.1"/><circle cx="1067.2" cy="725.9" r="7.1"/><circle cx="1068.3" cy="726.2" r="7.1"/><circle cx="1069.3" cy="726.9" r="7.1"/><circle cx="1070.3" cy="727.7" r="7.1"/><circle cx="1071.3" cy="729.0" r="7.1"/><circle cx="1072.3" cy="729.3" r="7.1"/><circle cx="1073.3" cy="726.0" r="7.1"/><circle cx="1074.3" cy="730.9" r="7.1"/><circle cx="1075.3" cy="728.0" r="7.1"/><circle cx="1076.3" cy="729.3" r="7.1"/><circle cx="1077.3" cy="722.5" r="7.1"/><circle cx="1078.3" cy="728.9" r="7.1"/><circle cx="1079.3" cy="729.5" r="7.1"/><circle cx="1080.3" cy="723.8" r="7.1"/><circle cx="1081.3" cy="730.7" r="7.1"/><circle cx="1082.3" cy="725.2" r="7.1"/><circle cx="1083.3" cy="725.1" r="7.1"/><circle cx="1084.3" cy="727.8" r="7.1"/><circle cx="1085.3" cy="730.2" r="7.1"/><circle cx="1086.3" cy="728.8" r="7.1"/><circle cx="1087.3" cy="727.4" r="7.1"/><circle cx="1088.3" cy="725.8" r="7.1"/><circle cx="1089.3" cy="726.5" r="7.1"/><circle cx="1090.3" cy="726.8" r="7.1"/><circle cx="1091.3" cy="728.5" r="7.1"/><circle cx="1092.3" cy="725.4" r="7.1"/><circle cx="1093.3" cy="729.6" r="7.1"/><circle cx="1094.3" cy="729.0" r="7.1"/><circle cx="1095.3" cy="727.3" r="7.1"/><circle cx="1096.3" cy="726.0" r="7.1"/><circle cx="1097.3" cy="726.7" r="7.1"/><circle cx="1098.3" cy="726.6" r="7.1"/><circle cx="1099.3" cy="728.6" r="7.1"/><circle cx="1100.3" cy="725.6" r="7.1"/><circle cx="1101.3" cy="731.4" r="7.1"/><circle cx="1102.3" cy="722.2" r="7.1"/><circle cx="1103.3" cy="730.1" r="7.1"/><circle cx="1104.3" cy="729.7" r="7.1"/><circle cx="1105.3" cy="726.8" r="7.1"/><circle cx="1106.3" cy="725.9" r="7.1"/><circle cx="1107.3" cy="729.5" r="7.1"/><circle cx="1108.3" cy="727.7" r="7.1"/><circle cx="1109.3" cy="723.5" r="7.1"/><circle cx="1110.3" cy="727.0" r="7.1"/><circle cx="1111.3" cy="724.5" r="7.1"/><circle cx="1112.3" cy="725.4" r="7.1"/><circle cx="1113.3" cy="725.1" r="7.1"/><circle cx="1114.3" cy="728.2" r="7.1"/><circle cx="1115.3" cy="726.9" r="7.1"/><circle cx="1116.3" cy="722.5" r="7.1"/><circle cx="1117.3" cy="729.1" r="7.1"/><circle cx="1118.3" cy="729.8" r="7.1"/><circle cx="1119.3" cy="724.9" r="7.1"/><circle cx="1120.3" cy="728.7" r="7.1"/><circle cx="1121.3" cy="727.5" r="7.1"/><circle cx="1122.3" cy="726.3" r="7.1"/><circle cx="1123.3" cy="728.4" r="7.1"/><circle cx="1124.3" cy="728.1" r="7.1"/><circle cx="1125.3" cy="726.9" r="7.1"/><circle cx="1126.3" cy="727.9" r="7.1"/><circle cx="1127.3" cy="730.1" r="7.1"/><circle cx="1128.3" cy="726.8" r="7.1"/><circle cx="1129.3" cy="727.4" r="7.1"/><circle cx="1130.3" cy="725.3" r="7.1"/><circle cx="1131.3" cy="728.1" r="7.1"/><circle cx="1132.3" cy="725.4" r="7.1"/><circle cx="1133.3" cy="725.1" r="7.1"/><circle cx="1134.3" cy="725.0" r="7.1"/><circle cx="1135.3" cy="726.0" r="7.1"/><circle cx="1136.3" cy="726.7" r="7.1"/><circle cx="1137.3" cy="727.1" r="7.1"/><circle cx="1138.3" cy="728.5" r="7.1"/><circle cx="1139.3" cy="727.7" r="7.1"/><circle cx="1140.3" cy="727.7" r="7.1"/><circle cx="1141.3" cy="723.0" r="7.1"/><circle cx="1142.3" cy="729.9" r="7.1"/><circle cx="1143.3" cy="728.1" r="7.1"/><circle cx="1144.3" cy="727.1" r="7.1"/><circle cx="1145.3" cy="729.4" r="7.1"/><circle cx="1146.3" cy="726.1" r="7.1"/><circle cx="1147.3" cy="728.9" r="7.1"/><circle cx="1148.3" cy="726.9" r="7.1"/><circle cx="1149.3" cy="727.5" r="7.1"/><circle cx="1150.3" cy="731.7" r="7.1"/><circle cx="1151.3" cy="726.4" r="7.1"/><circle cx="1152.3" cy="730.0" r="7.1"/><circle cx="1153.3" cy="727.0" r="7.1"/><circle cx="1154.3" cy="724.5" r="7.1"/><circle cx="1155.3" cy="725.8" r="7.1"/><circle cx="1156.3" cy="727.6" r="7.1"/><circle cx="1157.3" cy="727.5" r="7.1"/><circle cx="1158.3" cy="727.3" r="7.1"/><circle cx="1159.3" cy="728.1" r="7.1"/><circle cx="1160.3" cy="729.2" r="7.1"/><circle cx="1161.3" cy="727.6" r="7.1"/><circle cx="1162.3" cy="727.7" r="7.1"/><circle cx="1163.3" cy="723.1" r="7.1"/><circle cx="1164.3" cy="726.6" r="7.1"/><circle cx="1165.3" cy="722.6" r="7.1"/><circle cx="1166.3" cy="727.7" r="7.1"/><circle cx="1167.3" cy="726.9" r="7.1"/><circle cx="1168.3" cy="727.5" r="7.1"/><circle cx="1169.3" cy="729.2" r="7.1"/><circle cx="1170.4" cy="729.4" r="7.1"/><circle cx="1171.4" cy="728.2" r="7.1"/><circle cx="1172.4" cy="725.6" r="7.1"/><circle cx="1173.4" cy="729.6" r="7.1"/><circle cx="1174.4" cy="730.1" r="7.1"/><circle cx="1175.4" cy="727.7" r="7.1"/><circle cx="1176.4" cy="728.8" r="7.1"/><circle cx="1177.4" cy="729.0" r="7.1"/><circle cx="1178.4" cy="724.2" r="7.1"/><circle cx="1179.4" cy="727.7" r="7.1"/><circle cx="1180.4" cy="726.5" r="7.1"/><circle cx="1181.4" cy="727.8" r="7.1"/><circle cx="1182.4" cy="726.1" r="7.1"/><circle cx="1183.4" cy="727.8" r="7.1"/><circle cx="1184.4" cy="728.0" r="7.1"/><circle cx="1185.4" cy="717.8" r="7.1"/><circle cx="1186.4" cy="727.8" r="7.1"/><circle cx="1187.4" cy="724.9" r="7.1"/><circle cx="1188.4" cy="729.0" r="7.1"/><circle cx="1189.4" cy="724.5" r="7.1"/><circle cx="1190.4" cy="729.8" r="7.1"/><circle cx="1191.4" cy="728.5" r="7.1"/><circle cx="1192.4" cy="727.4" r="7.1"/><circle cx="1193.4" cy="729.8" r="7.1"/><circle cx="1194.4" cy="728.8" r="7.1"/><circle cx="1195.4" cy="726.2" r="7.1"/><circle cx="1196.4" cy="728.2" r="7.1"/><circle cx="1197.4" cy="729.1" r="7.1"/><circle cx="1198.4" cy="726.2" r="7.1"/><circle cx="1199.4" cy="727.5" r="7.1"/><circle cx="1200.4" cy="726.5" r="7.1"/><circle cx="1201.4" cy="724.6" r="7.1"/><circle cx="1202.4" cy="727.7" r="7.1"/><circle cx="1203.4" cy="727.0" r="7.1"/><circle cx="1204.4" cy="721.4" r="7.1"/><circle cx="1205.4" cy="731.3" r="7.1"/><circle cx="1206.4" cy="727.3" r="7.1"/><circle cx="1207.4" cy="729.2" r="7.1"/><circle cx="1208.4" cy="726.8" r="7.1"/><circle cx="1209.4" cy="729.2" r="7.1"/><circle cx="1210.4" cy="728.6" r="7.1"/><circle cx="1211.4" cy="730.1" r="7.1"/><circle cx="1212.4" cy="726.2" r="7.1"/><circle cx="1213.4" cy="727.7" r="7.1"/><circle cx="1214.4" cy="728.3" r="7.1"/><circle cx="1215.4" cy="729.6" r="7.1"/><circle cx="1216.4" cy="725.2" r="7.1"/><circle cx="1217.4" cy="730.8" r="7.1"/><circle cx="1218.4" cy="725.5" r="7.1"/><circle cx="1219.4" cy="726.9" r="7.1"/><circle cx="1220.4" cy="728.7" r="7.1"/><circle cx="1221.4" cy="727.5" r="7.1"/><circle cx="1222.4" cy="730.4" r="7.1"/><circle cx="455.0" cy="685.0" r="7.1"/><circle cx="454.0" cy="711.0" r="7.1"/><circle cx="381.2" cy="658.8" r="7.1"/><circle cx="351.9" cy="671.9" r="7.1"/><circle cx="1005.1" cy="452.1" r="7.1"/><circle cx="1027.0" cy="489.6" r="7.1"/></g>
<path d="M198.40 728.10 L299.50 728.10 L300.50 567.10 L330.90 567.10 L331.90 734.40 L350.75 734.40 L351.75 693.75 L431.40 693.75 L432.40 737.50 L453.90 737.50 L454.90 649.60 L606.50 649.60 L607.50 735.60 L647.80 735.60 L648.80 718.50 L863.50 718.50 L864.50 366.00 L976.20 366.00 L977.20 688.75 L996.20 688.75 L997.20 543.75 L1027.80 543.75 L1028.80 728.10 L1222.40 728.10" stroke="#000" stroke-width="2"/>
<g stroke="#cccccc" stroke-width="2">
<path d="M198.40 726.95 L205.41 726.95 L206.41 727.14 L213.42 727.14 L214.42 727.41 L245.45 727.41 L246.45 727.53 L261.46 727.53 L262.46 726.44 L263.46 726.44 L264.47 727.03 L265.47 727.03 L266.47 726.44 L277.48 726.44 L278.48 726.65 L299.50 726.65 L300.50 566.27 L309.51 566.27 L310.51 568.33 L317.52 568.33 L318.52 574.99 L325.53 574.99 L326.53 634.90 L330.53 634.90 L331.53 630.58 L333.53 630.58 L334.53 734.12 L349.55 734.12 L350.55 696.74 L350.55 696.74 L351.55 692.37 L357.56 692.37 L358.56 686.53 L365.56 686.53 L366.57 685.60 L373.57 685.60 L374.57 686.39 L405.60 686.39 L406.60 685.92 L421.62 685.92 L422.62 688.02 L429.63 688.02 L430.63 712.50 L431.63 712.50 L432.63 715.09 L433.63 715.09 L434.63 737.41 L437.63 737.41 L438.64 737.56 L453.65 737.56 L454.65 650.97 L469.67 650.97 L470.67 651.23 L485.68 651.23 L486.68 655.04 L493.69 655.04 L494.69 652.10 L501.70 652.10 L502.70 649.34 L509.71 649.34 L510.71 648.59 L517.71 648.59 L518.71 645.33 L533.73 645.33 L534.73 647.93 L541.74 647.93 L542.74 648.69 L543.74 648.69 L544.74 646.41 L549.74 646.41 L550.75 648.69 L557.75 648.69 L558.75 648.29 L565.76 648.29 L566.76 666.26 L573.77 666.26 L574.77 650.28 L581.78 650.28 L582.78 641.25 L589.78 641.25 L590.78 654.57 L605.80 654.57 L606.80 723.66 L613.81 723.66 L614.81 735.77 L621.81 735.77 L622.82 735.69 L637.83 735.69 L638.83 735.86 L645.84 735.86 L646.84 723.58 L647.84 723.58 L648.84 722.69 L653.85 722.69 L654.85 718.40 L669.86 718.40 L670.86 718.08 L701.89 718.08 L702.89 714.96 L717.91 714.96 L718.91 718.70 L725.92 718.70 L726.92 718.15 L733.92 718.15 L734.93 716.77 L749.94 716.77 L750.94 714.50 L757.95 714.50 L758.95 715.53 L765.96 715.53 L766.96 718.96 L773.96 718.96 L774.96 715.19 L805.99 715.19 L807.00 718.59 L838.03 718.59 L839.03 715.08 L846.03 715.08 L847.03 719.02 L862.05 719.02 L863.05 460.57 L863.05 460.57 L864.05 452.76 L866.05 452.76 L867.05 364.22 L878.07 364.22 L879.07 356.15 L894.08 356.15 L895.08 305.08 L902.09 305.08 L903.09 338.78 L918.10 338.78 L919.11 313.02 L926.11 313.02 L927.11 330.34 L942.13 330.34 L943.13 342.09 L948.13 342.09 L949.13 444.11 L952.14 444.11 L953.14 342.09 L958.14 342.09 L959.14 351.90 L974.16 351.90 L975.16 480.38 L976.16 480.38 L977.16 532.15 L978.16 532.15 L979.16 689.93 L982.17 689.93 L983.17 697.71 L990.17 697.71 L991.18 667.58 L996.18 667.58 L997.18 648.42 L998.18 648.42 L999.18 514.79 L1006.19 514.79 L1007.19 557.22 L1014.20 557.22 L1015.20 524.07 L1026.21 524.07 L1027.21 625.40 L1028.21 625.40 L1029.21 629.56 L1030.21 629.56 L1031.21 727.28 L1046.23 727.28 L1047.23 728.01 L1062.24 728.01 L1063.25 726.97 L1094.28 726.97 L1095.28 727.11 L1110.29 727.11 L1111.29 727.60 L1142.32 727.60 L1143.32 727.46 L1150.33 727.46 L1151.33 728.62 L1158.34 728.62 L1159.34 728.07 L1174.35 728.07 L1175.36 727.22 L1182.36 727.22 L1183.36 726.64 L1198.38 726.64 L1199.38 727.18 L1206.39 727.18 L1207.39 727.01 L1214.39 727.01 L1215.39 727.50 L1222.40 727.50"/>
<path d="M198.40 727.25 L213.42 727.25 L214.42 727.66 L221.42 727.66 L222.42 727.22 L237.44 727.22 L238.44 727.23 L253.45 727.23 L254.46 726.69 L285.49 726.69 L286.49 726.95 L293.49 726.95 L294.49 683.32 L299.50 683.32 L300.50 688.68 L301.50 688.68 L302.50 578.62 L317.52 578.62 L318.52 574.81 L325.53 574.81 L326.53 634.78 L330.53 634.78 L331.53 630.46 L333.53 630.46 L334.53 734.92 L349.55 734.92 L350.55 696.73 L350.55 696.73 L351.55 692.36 L357.56 692.36 L358.56 686.51 L361.56 686.51 L362.56 686.44 L363.56 686.44 L364.56 686.51 L365.56 686.51 L366.57 691.66 L381.58 691.66 L382.58 694.73 L389.59 694.73 L390.59 687.93 L405.60 687.93 L406.60 688.45 L413.61 688.45 L414.61 691.15 L429.63 691.15 L430.63 725.74 L431.63 725.74 L432.63 727.16 L437.63 727.16 L438.64 737.67 L445.64 737.67 L446.64 737.53 L453.65 737.53 L454.65 650.17 L477.67 650.17 L478.67 651.84 L493.69 651.84 L494.69 639.34 L501.70 639.34 L502.70 653.73 L509.71 653.73 L510.71 649.10 L517.71 649.10 L518.71 649.89 L525.72 649.89 L526.72 664.55 L533.73 664.55 L534.73 651.97 L565.76 651.97 L566.76 651.83 L573.77 651.83 L574.77 650.77 L589.78 650.77 L590.78 653.29 L605.80 653.29 L606.80 725.53 L613.81 725.53 L614.81 735.85 L621.81 735.85 L622.82 735.94 L637.83 735.94 L638.83 735.02 L645.84 735.02 L646.84 725.67 L647.84 725.67 L648.84 724.89 L649.84 724.89 L650.84 715.08 L653.85 715.08 L654.85 715.72 L669.86 715.72 L670.86 716.52 L677.87 716.52 L678.87 714.36 L685.88 714.36 L686.88 717.01 L693.89 717.01 L694.89 716.48 L701.89 716.48 L702.89 718.12 L733.92 718.12 L734.93 717.08 L743.93 717.08 L744.93 725.17 L747.94 725.17 L748.94 717.08 L765.96 717.08 L766.96 719.06 L773.96 719.06 L774.96 717.80 L789.98 717.80 L790.98 717.67 L797.99 717.67 L798.99 716.75 L830.02 716.75 L831.02 717.09 L838.03 717.09 L839.03 719.20 L854.04 719.20 L855.04 716.97 L862.05 716.97 L863.05 388.34 L863.05 388.34 L864.05 378.53 L870.06 378.53 L871.06 371.06 L886.07 371.06 L887.07 351.21 L902.09 351.21 L903.09 354.43 L918.10 354.43 L919.11 351.56 L934.12 351.56 L935.12 363.14 L942.13 363.14 L943.13 335.58 L950.14 335.58 L951.14 254.55 L958.14 254.55 L959.14 337.61 L974.16 337.61 L975.16 599.07 L976.16 599.07 L977.16 627.34 L982.17 627.34 L983.17 696.40 L994.18 696.40 L995.18 634.34 L996.18 634.34 L997.18 606.60 L998.18 606.60 L999.18 528.53 L1004.19 528.53 L1005.19 533.43 L1006.19 533.43 L1007.19 532.69 L1014.20 532.69 L1015.20 546.41 L1022.21 546.41 L1023.21 591.88 L1028.21 591.88 L1029.21 597.23 L1030.21 597.23 L1031.21 728.77 L1046.23 728.77 L1047.23 728.62 L1054.24 728.62 L1055.24 727.52 L1062.24 727.52 L1063.25 727.46 L1070.25 727.46 L1071.25 728.63 L1078.26 728.63 L1079.26 726.54 L1086.27 726.54 L1087.27 726.56 L1094.28 726.56 L1095.28 726.92 L1102.28 726.92 L1103.29 727.73 L1118.30 727.73 L1119.30 727.30 L1126.31 727.30 L1127.31 726.80 L1134.32 726.80 L1135.32 727.60 L1142.32 727.60 L1143.32 727.23 L1150.33 727.23 L1151.33 727.88 L1182.36 727.88 L1183.36 726.53 L1214.39 726.53 L1215.39 726.65 L1222.40 726.65"/>
<path d="M198.40 727.45 L213.42 727.45 L214.42 727.32 L229.43 727.32 L230.43 729.43 L245.45 729.43 L246.45 726.91 L261.46 726.91 L262.46 728.92 L269.47 728.92 L270.47 728.12 L277.48 728.12 L278.48 726.39 L285.49 726.39 L286.49 726.89 L297.50 726.89 L298.50 639.25 L299.50 639.25 L300.50 648.65 L301.50 648.65 L302.50 574.81 L325.53 574.81 L326.53 634.78 L330.53 634.78 L331.53 630.46 L333.53 630.46 L334.53 734.28 L349.55 734.28 L350.55 700.51 L350.55 700.51 L351.55 696.50 L357.56 696.50 L358.56 686.06 L373.57 686.06 L374.57 685.68 L381.58 685.68 L382.58 690.04 L413.61 690.04 L414.61 692.25 L429.63 692.25 L430.63 724.72 L431.63 724.72 L432.63 726.23 L437.63 726.23 L438.64 737.85 L445.64 737.85 L446.64 737.40 L453.65 737.40 L454.65 647.44 L477.67 647.44 L478.67 649.25 L493.69 649.25 L494.69 661.27 L501.70 661.27 L502.70 646.25 L509.71 646.25 L510.71 650.46 L517.71 650.46 L518.71 648.83 L549.74 648.83 L550.75 640.70 L557.75 640.70 L558.75 657.13 L573.77 657.13 L574.77 652.02 L581.78 652.02 L582.78 646.44 L589.78 646.44 L590.78 651.99 L593.79 651.99 L594.79 653.14 L597.79 653.14 L598.79 649.53 L605.80 649.53 L606.80 714.08 L609.80 714.08 L610.80 735.60 L613.81 735.60 L614.81 735.44 L629.82 735.44 L630.82 736.05 L637.83 736.05 L638.83 735.47 L647.84 735.47 L648.84 716.86 L669.86 716.86 L670.86 717.05 L685.88 717.05 L686.88 715.02 L701.89 715.02 L702.89 717.19 L717.91 717.19 L718.91 718.21 L733.92 718.21 L734.93 717.59 L749.94 717.59 L750.94 719.34 L765.96 719.34 L766.96 715.11 L773.96 715.11 L774.96 717.74 L781.97 717.74 L782.97 717.33 L789.98 717.33 L790.98 717.29 L797.99 717.29 L798.99 716.27 L805.99 716.27 L807.00 719.02 L822.01 719.02 L823.01 719.29 L830.02 719.29 L831.02 717.19 L838.03 717.19 L839.03 717.40 L854.04 717.40 L855.04 714.57 L862.05 714.57 L863.05 716.45 L863.05 716.45 L864.05 321.62 L870.06 321.62 L871.06 337.58 L880.07 337.58 L881.07 379.39 L882.07 379.39 L883.07 337.58 L898.08 337.58 L899.09 356.84 L902.09 356.84 L903.09 365.21 L910.10 365.21 L911.10 367.08 L918.10 367.08 L919.11 386.20 L926.11 386.20 L927.11 356.66 L942.13 356.66 L943.13 358.09 L950.14 358.09 L951.14 357.59 L966.15 357.59 L967.15 335.87 L974.16 335.87 L975.16 597.34 L976.16 597.34 L977.16 625.95 L982.17 625.95 L983.17 696.73 L994.18 696.73 L995.18 635.15 L996.18 635.15 L997.18 607.61 L998.18 607.61 L999.18 530.13 L1014.20 530.13 L1015.20 529.68 L1022.21 529.68 L1023.21 579.04 L1028.21 579.04 L1029.21 584.85 L1030.21 584.85 L1031.21 725.59 L1038.22 725.59 L1039.22 728.97 L1054.24 728.97 L1055.24 727.42 L1062.24 727.42 L1063.25 727.39 L1078.26 727.39 L1079.26 728.70 L1094.28 728.70 L1095.28 727.53 L1110.29 727.53 L1111.29 727.59 L1118.30 727.59 L1119.30 727.04 L1126.31 727.04 L1127.31 727.61 L1134.32 727.61 L1135.32 727.98 L1142.32 727.98 L1143.32 728.14 L1174.35 728.14 L1175.36 728.50 L1182.36 728.50 L1183.36 727.27 L1214.39 727.27 L1215.39 727.68 L1222.40 727.68"/>
<path d="M198.40 726.60 L213.42 726.60 L214.42 728.51 L229.43 728.51 L230.43 727.67 L237.44 727.67 L238.44 727.05 L269.47 727.05 L270.47 728.40 L277.48 728.40 L278.48 726.84 L285.49 726.84 L286.49 727.36 L293.49 727.36 L294.49 684.93 L299.50 684.93 L300.50 690.14 L301.50 690.14 L302.50 574.53 L317.52 574.53 L318.52 583.02 L325.53 583.02 L326.53 556.37 L329.53 556.37 L330.53 689.55 L330.53 689.55 L331.53 687.44 L333.53 687.44 L334.53 733.63 L337.54 733.63 L338.54 735.03 L339.54 735.03 L340.54 733.63 L341.54 733.63 L342.54 734.42 L349.55 734.42 L350.55 700.45 L350.55 700.45 L351.55 696.43 L353.55 696.43 L354.55 684.27 L357.56 684.27 L358.56 686.08 L373.57 686.08 L374.57 685.31 L381.58 685.31 L382.58 685.75 L389.59 685.75 L390.59 685.10 L397.60 685.10 L398.60 690.20 L429.63 690.20 L430.63 725.41 L431.63 725.41 L432.63 726.86 L437.63 726.86 L438.64 737.58 L453.65 737.58 L454.65 651.41 L461.66 651.41 L462.66 644.36 L469.67 644.36 L470.67 647.68 L485.68 647.68 L486.68 653.38 L515.71 653.38 L516.71 634.31 L521.72 634.31 L522.72 652.10 L525.72 652.10 L526.72 650.16 L541.74 650.16 L542.74 650.87 L549.74 650.87 L550.75 651.12 L557.75 651.12 L558.75 641.96 L565.76 641.96 L566.76 652.65 L581.78 652.65 L582.78 655.32 L589.78 655.32 L590.78 642.69 L597.79 642.69 L598.79 647.13 L605.80 647.13 L606.80 724.40 L613.81 724.40 L614.81 735.05 L621.81 735.05 L622.82 735.05 L629.82 735.05 L630.82 735.40 L645.84 735.40 L646.84 720.93 L647.84 720.93 L648.84 719.92 L653.85 719.92 L654.85 716.28 L685.88 716.28 L686.88 716.33 L701.89 716.33 L702.89 717.27 L717.91 717.27 L718.91 715.38 L725.92 715.38 L726.92 715.72 L741.93 715.72 L742.93 716.18 L757.95 716.18 L758.95 716.91 L765.96 716.91 L766.96 716.85 L773.96 716.85 L774.96 715.92 L789.98 715.92 L790.98 716.21 L805.99 716.21 L807.00 719.87 L814.00 719.87 L815.00 717.26 L822.01 717.26 L823.01 719.40 L830.02 719.40 L831.02 719.12 L846.03 719.12 L847.03 715.71 L854.04 715.71 L855.04 718.00 L862.05 718.00 L863.05 402.92 L863.05 402.92 L864.05 393.51 L870.06 393.51 L871.06 322.70 L902.09 322.70 L903.09 316.66 L908.09 316.66 L909.10 341.90 L912.10 341.90 L913.10 356.97 L930.12 356.97 L931.12 284.95 L938.12 284.95 L939.12 356.97 L942.13 356.97 L943.13 332.21 L950.14 332.21 L951.14 313.92 L958.14 313.92 L959.14 303.14 L962.15 303.14 L963.15 407.08 L964.15 407.08 L965.15 303.14 L966.15 303.14 L967.15 330.52 L974.16 330.52 L975.16 595.44 L976.16 595.44 L977.16 624.42 L982.17 624.42 L983.17 692.60 L990.17 692.60 L991.18 658.97 L996.18 658.97 L997.18 637.59 L998.18 637.59 L999.18 524.81 L1022.21 524.81 L1023.21 575.30 L1028.21 575.30 L1029.21 581.24 L1030.21 581.24 L1031.21 727.17 L1038.22 727.17 L1039.22 727.14 L1070.25 727.14 L1071.25 726.58 L1078.26 726.58 L1079.26 726.49 L1094.28 726.49 L1095.28 726.56 L1102.28 726.56 L1103.29 727.09 L1118.30 727.09 L1119.30 727.03 L1126.31 727.03 L1127.31 726.00 L1134.32 726.00 L1135.32 728.75 L1150.33 728.75 L1151.33 727.26 L1166.35 727.26 L1167.35 725.99 L1182.36 725.99 L1183.36 727.44 L1190.37 727.44 L1191.37 728.07 L1198.38 728.07 L1199.38 727.13 L1206.39 727.13 L1207.39 728.36 L1214.39 728.36 L1215.39 727.47 L1222.40 727.47"/>
<path d="M198.40 727.55 L229.43 727.55 L230.43 727.64 L245.45 727.64 L246.45 725.95 L261.46 725.95 L262.46 727.84 L269.47 727.84 L270.47 726.99 L277.48 726.99 L278.48 726.73 L285.49 726.73 L286.49 728.38 L293.49 728.38 L294.49 725.30 L297.50 725.30 L298.50 628.32 L299.50 628.32 L300.50 638.72 L301.50 638.72 L302.50 587.49 L317.52 587.49 L318.52 595.71 L325.53 595.71 L326.53 632.67 L330.53 632.67 L331.53 628.27 L333.53 628.27 L334.53 734.20 L349.55 734.20 L350.55 706.17 L350.55 706.17 L351.55 702.72 L353.55 702.72 L354.55 692.24 L381.58 692.24 L382.58 688.57 L397.60 688.57 L398.60 689.17 L413.61 689.17 L414.61 691.10 L421.62 691.10 L422.62 689.42 L429.63 689.42 L430.63 726.07 L431.63 726.07 L432.63 727.46 L437.63 727.46 L438.64 737.75 L445.64 737.75 L446.64 737.91 L453.65 737.91 L454.65 643.33 L461.66 643.33 L462.66 653.05 L493.69 653.05 L494.69 648.99 L525.72 648.99 L526.72 664.22 L533.73 664.22 L534.73 650.75 L541.74 650.75 L542.74 660.24 L549.74 660.24 L550.75 650.54 L565.76 650.54 L566.76 650.26 L573.77 650.26 L574.77 665.98 L581.78 665.98 L582.78 652.31 L597.79 652.31 L598.79 648.88 L605.80 648.88 L606.80 724.50 L613.81 724.50 L614.81 735.47 L621.81 735.47 L622.82 735.09 L629.82 735.09 L630.82 735.28 L637.83 735.28 L638.83 735.92 L645.84 735.92 L646.84 723.77 L647.84 723.77 L648.84 722.90 L653.85 722.90 L654.85 711.73 L661.85 711.73 L662.85 714.54 L677.87 714.54 L678.87 716.73 L709.90 716.73 L710.90 716.16 L725.92 716.16 L726.92 713.91 L733.92 713.91 L734.93 717.73 L765.96 717.73 L766.96 714.65 L781.97 714.65 L782.97 719.27 L814.00 719.27 L815.00 720.52 L822.01 720.52 L823.01 718.60 L830.02 718.60 L831.02 717.71 L862.05 717.71 L863.05 390.31 L863.05 390.31 L864.05 380.55 L870.06 380.55 L871.06 340.83 L878.07 340.83 L879.07 362.52 L894.08 362.52 L895.08 379.17 L902.09 379.17 L903.09 254.79 L910.10 254.79 L911.10 323.63 L918.10 323.63 L919.11 322.83 L934.12 322.83 L935.12 346.23 L950.14 346.23 L951.14 312.52 L966.15 312.52 L967.15 335.67 L974.16 335.67 L975.16 597.27 L976.16 597.27 L977.16 625.89 L982.17 625.89 L983.17 695.82 L990.17 695.82 L991.18 664.40 L996.18 664.40 L997.18 644.42 L998.18 644.42 L999.18 521.18 L1014.20 521.18 L1015.20 559.46 L1020.20 559.46 L1021.20 516.15 L1024.21 516.15 L1025.21 559.46 L1026.21 559.46 L1027.21 644.32 L1028.21 644.32 L1029.21 647.80 L1030.21 647.80 L1031.21 727.89 L1038.22 727.89 L1039.22 728.96 L1046.23 728.96 L1047.23 727.62 L1078.26 727.62 L1079.26 725.95 L1094.28 725.95 L1095.28 725.40 L1102.28 725.40 L1103.29 726.00 L1110.29 726.00 L1111.29 727.89 L1142.32 727.89 L1143.32 726.75 L1174.35 726.75 L1175.36 727.30 L1182.36 727.30 L1183.36 727.59 L1214.39 727.59 L1215.39 727.87 L1222.40 727.87"/>
<path d="M198.40 728.57 L205.41 728.57 L206.41 727.03 L221.42 727.03 L222.42 724.67 L229.43 724.67 L230.43 726.83 L261.46 726.83 L262.46 726.56 L293.49 726.56 L294.49 689.03 L299.50 689.03 L300.50 693.86 L301.50 693.86 L302.50 580.97 L309.51 580.97 L310.51 581.90 L317.52 581.90 L318.52 571.28 L325.53 571.28 L326.53 586.27 L327.53 586.27 L328.53 562.45 L329.53 562.45 L330.53 691.26 L330.53 691.26 L331.53 689.22 L333.53 689.22 L334.53 733.90 L341.54 733.90 L342.54 734.30 L349.55 734.30 L350.55 698.27 L350.55 698.27 L351.55 694.05 L357.56 694.05 L358.56 690.60 L373.57 690.60 L374.57 694.41 L389.59 694.41 L390.59 685.53 L397.60 685.53 L398.60 693.02 L405.60 693.02 L406.60 692.86 L421.62 692.86 L422.62 686.41 L429.63 686.41 L430.63 711.63 L431.63 711.63 L432.63 714.29 L433.63 714.29 L434.63 737.28 L453.65 737.28 L454.65 650.18 L469.67 650.18 L470.67 647.32 L485.68 647.32 L486.68 649.63 L517.71 649.63 L518.71 646.11 L533.73 646.11 L534.73 648.09 L545.74 648.09 L546.74 656.09 L547.74 656.09 L548.74 648.09 L549.74 648.09 L550.75 655.42 L565.76 655.42 L566.76 649.38 L581.78 649.38 L582.78 649.29 L605.80 649.29 L606.80 724.79 L613.81 724.79 L614.81 735.62 L629.82 735.62 L630.82 735.77 L637.83 735.77 L638.83 735.30 L645.84 735.30 L646.84 726.33 L647.84 726.33 L648.84 725.58 L649.84 725.58 L650.84 716.18 L653.85 716.18 L654.85 719.63 L661.85 719.63 L662.85 716.63 L677.87 716.63 L678.87 717.87 L685.88 717.87 L686.88 717.16 L693.89 717.16 L694.89 717.64 L709.90 717.64 L710.90 715.39 L717.91 715.39 L718.91 717.12 L725.92 717.12 L726.92 717.62 L757.95 717.62 L758.95 717.09 L789.98 717.09 L790.98 716.79 L805.99 716.79 L807.00 714.82 L822.01 714.82 L823.01 716.70 L830.02 716.70 L831.02 718.79 L838.03 718.79 L839.03 712.76 L842.03 712.76 L843.03 718.79 L846.03 718.79 L847.03 715.21 L854.04 715.21 L855.04 715.64 L862.05 715.64 L863.05 369.38 L863.05 369.38 L864.05 359.04 L870.06 359.04 L871.06 326.82 L902.09 326.82 L903.09 305.76 L918.10 305.76 L919.11 356.56 L926.11 356.56 L927.11 304.61 L934.12 304.61 L935.12 353.29 L950.14 353.29 L951.14 323.87 L958.14 323.87 L959.14 333.04 L966.15 333.04 L967.15 317.57 L974.16 317.57 L975.16 523.61 L976.16 523.61 L977.16 566.82 L978.16 566.82 L979.16 698.51 L982.17 698.51 L983.17 692.14 L990.17 692.14 L991.18 666.59 L996.18 666.59 L997.18 647.17 L998.18 647.17 L999.18 538.92 L1014.20 538.92 L1015.20 502.75 L1018.20 502.75 L1019.20 513.44 L1022.21 513.44 L1023.21 592.99 L1028.21 592.99 L1029.21 598.30 L1030.21 598.30 L1031.21 726.86 L1046.23 726.86 L1047.23 727.84 L1062.24 727.84 L1063.25 727.81 L1070.25 727.81 L1071.25 728.01 L1086.27 728.01 L1087.27 727.25 L1094.28 727.25 L1095.28 727.30 L1102.28 727.30 L1103.29 726.52 L1110.29 726.52 L1111.29 728.29 L1126.31 728.29 L1127.31 726.35 L1142.32 726.35 L1143.32 727.80 L1174.35 727.80 L1175.36 725.56 L1182.36 725.56 L1183.36 727.32 L1198.38 727.32 L1199.38 725.40 L1206.39 725.40 L1207.39 729.10 L1214.39 729.10 L1215.39 726.67 L1222.40 726.67"/>
<path d="M198.40 727.52 L229.43 727.52 L230.43 726.89 L261.46 726.89 L262.46 727.61 L269.47 727.61 L270.47 727.47 L277.48 727.47 L278.48 728.05 L285.49 728.05 L286.49 726.29 L293.49 726.29 L294.49 680.72 L299.50 680.72 L300.50 686.32 L301.50 686.32 L302.50 574.79 L303.50 574.79 L304.50 548.95 L305.51 548.95 L306.51 574.79 L309.51 574.79 L310.51 564.90 L325.53 564.90 L326.53 582.18 L330.53 582.18 L331.53 734.77 L341.54 734.77 L342.54 735.04 L349.55 735.04 L350.55 706.30 L350.55 706.30 L351.55 702.85 L353.55 702.85 L354.55 692.41 L365.56 692.41 L366.57 687.76 L397.60 687.76 L398.60 688.94 L429.63 688.94 L430.63 709.40 L431.63 709.40 L432.63 712.26 L433.63 712.26 L434.63 736.95 L445.64 736.95 L446.64 737.20 L453.65 737.20 L454.65 655.99 L469.67 655.99 L470.67 648.92 L485.68 648.92 L486.68 649.72 L493.69 649.72 L494.69 655.31 L525.72 655.31 L526.72 646.80 L533.73 646.80 L534.73 652.90 L549.74 652.90 L550.75 643.28 L581.78 643.28 L582.78 649.06 L597.79 649.06 L598.79 648.47 L605.80 648.47 L606.80 716.93 L609.80 716.93 L610.80 736.23 L613.81 736.23 L614.81 736.02 L621.81 736.02 L622.82 735.12 L629.82 735.12 L630.82 735.38 L645.84 735.38 L646.84 725.83 L647.84 725.83 L648.84 725.06 L653.85 725.06 L654.85 716.98 L669.86 716.98 L670.86 715.05 L677.87 715.05 L678.87 716.05 L709.90 716.05 L710.90 716.34 L725.92 716.34 L726.92 715.71 L733.92 715.71 L734.93 717.22 L765.96 717.22 L766.96 718.89 L781.97 718.89 L782.97 718.83 L797.99 718.83 L798.99 717.50 L830.02 717.50 L831.02 718.10 L838.03 718.10 L839.03 716.67 L854.04 716.67 L855.04 716.82 L862.05 716.82 L863.05 418.46 L863.05 418.46 L864.05 409.49 L870.06 409.49 L871.06 349.20 L880.07 349.20 L881.07 439.33 L884.07 439.33 L885.07 349.20 L886.07 349.20 L887.07 313.15 L902.09 313.15 L903.09 373.18 L934.12 373.18 L935.12 356.79 L950.14 356.79 L951.14 298.49 L958.14 298.49 L959.14 343.15 L976.16 343.15 L977.16 696.67 L990.17 696.67 L991.18 668.48 L996.18 668.48 L997.18 649.55 L998.18 649.55 L999.18 519.08 L1008.19 519.08 L1009.19 519.44 L1012.20 519.44 L1013.20 519.08 L1014.20 519.08 L1015.20 511.54 L1022.21 511.54 L1023.21 560.29 L1026.21 560.29 L1027.21 644.76 L1028.21 644.76 L1029.21 648.23 L1030.21 648.23 L1031.21 729.69 L1038.22 729.69 L1039.22 726.40 L1070.25 726.40 L1071.25 727.25 L1086.27 727.25 L1087.27 725.67 L1102.28 725.67 L1103.29 726.82 L1134.32 726.82 L1135.32 727.82 L1142.32 727.82 L1143.32 726.90 L1158.34 726.90 L1159.34 728.67 L1174.35 728.67 L1175.36 727.07 L1206.39 727.07 L1207.39 726.38 L1222.40 726.38"/>
<path d="M198.40 728.61 L205.41 728.61 L206.41 727.40 L221.42 727.40 L222.42 728.81 L229.43 728.81 L230.43 729.09 L237.44 729.09 L238.44 729.44 L253.45 729.44 L254.46 725.28 L261.46 725.28 L262.46 726.73 L277.48 726.73 L278.48 725.24 L285.49 725.24 L286.49 728.13 L299.50 728.13 L300.50 583.44 L301.50 583.44 L302.50 545.01 L309.51 545.01 L310.51 575.04 L325.53 575.04 L326.53 632.31 L330.53 632.31 L331.53 627.89 L333.53 627.89 L334.53 734.02 L349.55 734.02 L350.55 696.65 L350.55 696.65 L351.55 692.27 L357.56 692.27 L358.56 686.41 L365.56 686.41 L366.57 688.65 L373.57 688.65 L374.57 689.24 L381.58 689.24 L382.58 688.48 L413.61 688.48 L414.61 688.70 L429.63 688.70 L430.63 711.08 L431.63 711.08 L432.63 713.80 L433.63 713.80 L434.63 737.20 L453.65 737.20 L454.65 643.17 L461.66 643.17 L462.66 646.94 L477.67 646.94 L478.67 637.18 L485.68 637.18 L486.68 648.42 L517.71 648.42 L518.71 652.72 L549.74 652.72 L550.75 650.71 L557.75 650.71 L558.75 647.40 L565.76 647.40 L566.76 659.89 L573.77 659.89 L574.77 653.29 L589.78 653.29 L590.78 643.70 L597.79 643.70 L598.79 659.49 L605.80 659.49 L606.80 716.61 L609.80 716.61 L610.80 736.16 L621.81 736.16 L622.82 735.79 L637.83 735.79 L638.83 735.58 L645.84 735.58 L646.84 722.71 L647.84 722.71 L648.84 721.78 L653.85 721.78 L654.85 718.02 L661.85 718.02 L662.85 718.09 L669.86 718.09 L670.86 718.97 L685.88 718.97 L686.88 717.45 L693.89 717.45 L694.89 717.89 L701.89 717.89 L702.89 718.90 L733.92 718.90 L734.93 716.79 L749.94 716.79 L750.94 721.04 L757.95 721.04 L758.95 716.50 L773.96 716.50 L774.96 716.39 L781.97 716.39 L782.97 715.41 L797.99 715.41 L798.99 717.10 L830.02 717.10 L831.02 718.67 L838.03 718.67 L839.03 715.25 L846.03 715.25 L847.03 717.71 L854.04 717.71 L855.04 717.00 L862.05 717.00 L863.05 388.77 L863.05 388.77 L864.05 378.97 L870.06 378.97 L871.06 330.78 L886.07 330.78 L887.07 324.06 L918.10 324.06 L919.11 335.52 L920.11 335.52 L921.11 482.05 L928.11 482.05 L929.11 335.52 L930.12 335.52 L931.12 353.84 L932.12 353.84 L933.12 335.52 L934.12 335.52 L935.12 358.10 L942.13 358.10 L943.13 314.07 L948.13 314.07 L949.13 260.86 L950.14 260.86 L951.14 314.07 L958.14 314.07 L959.14 327.14 L966.15 327.14 L967.15 358.59 L974.16 358.59 L975.16 605.43 L976.16 605.43 L977.16 632.43 L982.17 632.43 L983.17 697.39 L990.17 697.39 L991.18 664.27 L996.18 664.27 L997.18 644.26 L998.18 644.26 L999.18 525.33 L1014.20 525.33 L1015.20 546.47 L1022.21 546.47 L1023.21 527.35 L1026.21 527.35 L1027.21 627.16 L1028.21 627.16 L1029.21 631.25 L1030.21 631.25 L1031.21 727.49 L1038.22 727.49 L1039.22 726.96 L1054.24 726.96 L1055.24 727.73 L1062.24 727.73 L1063.25 727.31 L1094.28 727.31 L1095.28 729.48 L1102.28 729.48 L1103.29 729.01 L1110.29 729.01 L1111.29 726.37 L1118.30 726.37 L1119.30 727.46 L1128.31 727.46 L1129.31 728.27 L1132.31 728.27 L1133.31 727.46 L1134.32 727.46 L1135.32 727.19 L1166.35 727.19 L1167.35 729.91 L1174.35 729.91 L1175.36 728.05 L1182.36 728.05 L1183.36 728.61 L1198.38 728.61 L1199.38 727.33 L1206.39 727.33 L1207.39 726.73 L1214.39 726.73 L1215.39 725.73 L1222.40 725.73"/>
<path d="M198.40 726.39 L205.41 726.39 L206.41 725.85 L213.42 725.85 L214.42 727.69 L221.42 727.69 L222.42 727.57 L253.45 727.57 L254.46 728.19 L269.47 728.19 L270.47 727.54 L285.49 727.54 L286.49 726.59 L293.49 726.59 L294.49 686.27 L299.50 686.27 L300.50 691.36 L301.50 691.36 L302.50 582.05 L325.53 582.05 L326.53 639.42 L330.53 639.42 L331.53 635.28 L333.53 635.28 L334.53 734.22 L349.55 734.22 L350.55 697.65 L350.55 697.65 L351.55 693.37 L357.56 693.37 L358.56 687.64 L365.56 687.64 L366.57 689.81 L381.58 689.81 L382.58 688.20 L389.59 688.20 L390.59 692.68 L405.60 692.68 L406.60 690.28 L413.61 690.28 L414.61 685.44 L421.62 685.44 L422.62 691.66 L429.63 691.66 L430.63 712.65 L431.63 712.65 L432.63 715.23 L433.63 715.23 L434.63 737.43 L453.65 737.43 L454.65 648.19 L461.66 648.19 L462.66 663.64 L467.66 663.64 L468.67 655.27 L469.67 655.27 L470.67 648.96 L485.68 648.96 L486.68 659.21 L493.69 659.21 L494.69 655.52 L501.70 655.52 L502.70 655.16 L509.71 655.16 L510.71 653.87 L517.71 653.87 L518.71 655.95 L525.72 655.95 L526.72 653.71 L541.74 653.71 L542.74 654.82 L557.75 654.82 L558.75 657.92 L565.76 657.92 L566.76 641.23 L573.77 641.23 L574.77 653.87 L605.80 653.87 L606.80 723.87 L613.81 723.87 L614.81 735.66 L629.82 735.66 L630.82 735.42 L637.83 735.42 L638.83 735.84 L645.84 735.84 L646.84 723.53 L647.84 723.53 L648.84 722.64 L653.85 722.64 L654.85 715.73 L661.85 715.73 L662.85 720.53 L669.86 720.53 L670.86 717.36 L685.88 717.36 L686.88 718.00 L693.89 718.00 L694.89 716.48 L725.92 716.48 L726.92 718.72 L741.93 718.72 L742.93 717.80 L773.96 717.80 L774.96 717.26 L805.99 717.26 L807.00 717.37 L822.01 717.37 L823.01 718.36 L838.03 718.36 L839.03 717.38 L862.05 717.38 L863.05 394.12 L863.05 394.12 L864.05 384.47 L870.06 384.47 L871.06 338.13 L878.07 338.13 L879.07 328.10 L886.07 328.10 L887.07 358.14 L902.09 358.14 L903.09 410.99 L910.10 410.99 L911.10 370.15 L918.10 370.15 L919.11 314.05 L932.12 314.05 L933.12 382.29 L938.12 382.29 L939.12 314.05 L950.14 314.05 L951.14 320.54 L966.15 320.54 L967.15 327.94 L974.16 327.94 L975.16 594.52 L976.16 594.52 L977.16 623.68 L982.17 623.68 L983.17 694.95 L994.18 694.95 L995.18 630.91 L996.18 630.91 L997.18 602.29 L998.18 602.29 L999.18 518.60 L1006.19 518.60 L1007.19 540.25 L1014.20 540.25 L1015.20 513.04 L1022.21 513.04 L1023.21 566.27 L1028.21 566.27 L1029.21 572.54 L1030.21 572.54 L1031.21 727.30 L1062.24 727.30 L1063.25 727.60 L1094.28 727.60 L1095.28 728.01 L1102.28 728.01 L1103.29 728.13 L1118.30 728.13 L1119.30 727.32 L1134.32 727.32 L1135.32 727.91 L1142.32 727.91 L1143.32 725.61 L1150.33 725.61 L1151.33 726.80 L1158.34 726.80 L1159.34 726.99 L1174.35 726.99 L1175.36 728.23 L1206.39 728.23 L1207.39 727.15 L1214.39 727.15 L1215.39 727.64 L1222.40 727.64"/>
<path d="M198.40 727.83 L205.41 727.83 L206.41 727.84 L213.42 727.84 L214.42 727.87 L221.42 727.87 L222.42 727.78 L229.43 727.78 L230.43 728.02 L245.45 728.02 L246.45 728.21 L261.46 728.21 L262.46 728.03 L293.49 728.03 L294.49 687.03 L299.50 687.03 L300.50 692.06 L301.50 692.06 L302.50 580.72 L325.53 580.72 L326.53 561.28 L329.53 561.28 L330.53 690.93 L330.53 690.93 L331.53 688.88 L333.53 688.88 L334.53 733.84 L341.54 733.84 L342.54 735.35 L349.55 735.35 L350.55 698.47 L350.55 698.47 L351.55 694.27 L357.56 694.27 L358.56 688.19 L373.57 688.19 L374.57 696.27 L381.58 696.27 L382.58 692.95 L389.59 692.95 L390.59 689.25 L405.60 689.25 L406.60 686.21 L413.61 686.21 L414.61 689.19 L429.63 689.19 L430.63 713.14 L431.63 713.14 L432.63 715.67 L433.63 715.67 L434.63 737.51 L445.64 737.51 L446.64 737.36 L453.65 737.36 L454.65 646.68 L461.66 646.68 L462.66 648.53 L477.67 648.53 L478.67 656.03 L485.68 656.03 L486.68 647.40 L501.70 647.40 L502.70 651.39 L509.71 651.39 L510.71 645.19 L515.71 645.19 L516.71 658.79 L523.72 658.79 L524.72 647.02 L533.73 647.02 L534.73 652.29 L565.76 652.29 L566.76 643.54 L573.77 643.54 L574.77 655.42 L581.78 655.42 L582.78 660.40 L589.78 660.40 L590.78 656.20 L597.79 656.20 L598.79 654.04 L605.80 654.04 L606.80 725.67 L613.81 725.67 L614.81 735.90 L629.82 735.90 L630.82 735.22 L637.83 735.22 L638.83 735.21 L645.84 735.21 L646.84 721.74 L647.84 721.74 L648.84 720.77 L653.85 720.77 L654.85 717.83 L685.88 717.83 L686.88 718.19 L701.89 718.19 L702.89 718.05 L709.90 718.05 L710.90 715.17 L717.91 715.17 L718.91 715.56 L725.92 715.56 L726.92 717.80 L741.93 717.80 L742.93 717.36 L773.96 717.36 L774.96 716.31 L789.98 716.31 L790.98 717.33 L822.01 717.33 L823.01 720.17 L830.02 720.17 L831.02 717.79 L846.03 717.79 L847.03 715.76 L862.05 715.76 L863.05 371.07 L863.05 371.07 L864.05 360.78 L870.06 360.78 L871.06 310.18 L878.07 310.18 L879.07 316.07 L880.07 316.07 L881.07 297.47 L886.07 297.47 L887.07 316.07 L908.09 316.07 L909.10 238.53 L910.10 238.53 L911.10 243.61 L914.10 243.61 L915.10 313.57 L926.11 313.57 L927.11 276.83 L934.12 276.83 L935.12 386.05 L942.13 386.05 L943.13 343.98 L950.14 343.98 L951.14 362.46 L958.14 362.46 L959.14 375.51 L966.15 375.51 L967.15 325.93 L974.16 325.93 L975.16 608.04 L976.16 608.04 L977.16 634.53 L982.17 634.53 L983.17 695.35 L990.17 695.35 L991.18 663.61 L996.18 663.61 L997.18 643.43 L998.18 643.43 L999.18 529.51 L1006.19 529.51 L1007.19 565.81 L1014.20 565.81 L1015.20 534.11 L1022.21 534.11 L1023.21 575.18 L1028.21 575.18 L1029.21 581.13 L1030.21 581.13 L1031.21 727.31 L1054.24 727.31 L1055.24 729.07 L1062.24 729.07 L1063.25 727.19 L1070.25 727.19 L1071.25 728.52 L1078.26 728.52 L1079.26 728.34 L1086.27 728.34 L1087.27 727.83 L1094.28 727.83 L1095.28 725.77 L1110.29 725.77 L1111.29 727.63 L1142.32 727.63 L1143.32 726.92 L1158.34 726.92 L1159.34 727.82 L1174.35 727.82 L1175.36 729.90 L1182.36 729.90 L1183.36 727.15 L1190.37 727.15 L1191.37 728.45 L1206.39 728.45 L1207.39 726.01 L1214.39 726.01 L1215.39 727.69 L1222.40 727.69"/>
<path d="M198.40 728.23 L205.41 728.23 L206.41 727.73 L235.44 727.73 L236.44 728.88 L237.44 728.88 L238.44 726.15 L253.45 726.15 L254.46 726.26 L261.46 726.26 L262.46 726.98 L269.47 726.98 L270.47 727.13 L285.49 727.13 L286.49 727.76 L293.49 727.76 L294.49 727.21 L297.50 727.21 L298.50 641.46 L299.50 641.46 L300.50 650.65 L301.50 650.65 L302.50 572.76 L325.53 572.76 L326.53 571.83 L329.53 571.83 L330.53 693.91 L330.53 693.91 L331.53 691.98 L333.53 691.98 L334.53 734.31 L341.54 734.31 L342.54 734.31 L349.55 734.31 L350.55 698.32 L350.55 698.32 L351.55 694.11 L357.56 694.11 L358.56 688.47 L373.57 688.47 L374.57 691.02 L389.59 691.02 L390.59 686.13 L405.60 686.13 L406.60 691.30 L429.63 691.30 L430.63 714.29 L431.63 714.29 L432.63 716.72 L433.63 716.72 L434.63 737.68 L437.63 737.68 L438.64 737.29 L445.64 737.29 L446.64 737.23 L453.65 737.23 L454.65 643.84 L461.66 643.84 L462.66 648.00 L477.67 648.00 L478.67 647.58 L485.68 647.58 L486.68 657.17 L517.71 657.17 L518.71 663.23 L525.72 663.23 L526.72 649.09 L541.74 649.09 L542.74 659.08 L549.74 659.08 L550.75 652.43 L557.75 652.43 L558.75 651.39 L573.77 651.39 L574.77 641.80 L605.80 641.80 L606.80 725.57 L613.81 725.57 L614.81 735.86 L621.81 735.86 L622.82 735.97 L629.82 735.97 L630.82 735.81 L645.84 735.81 L646.84 722.94 L647.84 722.94 L648.84 722.03 L653.85 722.03 L654.85 717.59 L677.87 717.59 L678.87 718.41 L685.88 718.41 L686.88 717.09 L701.89 717.09 L702.89 719.04 L709.90 719.04 L710.90 718.92 L725.92 718.92 L726.92 717.04 L757.95 717.04 L758.95 718.32 L773.96 718.32 L774.96 716.13 L805.99 716.13 L807.00 717.05 L838.03 717.05 L839.03 720.83 L846.03 720.83 L847.03 717.25 L862.05 717.25 L863.05 446.50 L863.05 446.50 L864.05 438.31 L866.05 438.31 L867.05 345.34 L894.08 345.34 L895.08 348.10 L926.11 348.10 L927.11 320.33 L958.14 320.33 L959.14 320.23 L966.15 320.23 L967.15 370.26 L974.16 370.26 L975.16 607.81 L976.16 607.81 L977.16 634.34 L982.17 634.34 L983.17 698.46 L990.17 698.46 L991.18 665.64 L996.18 665.64 L997.18 645.98 L998.18 645.98 L999.18 523.37 L1006.19 523.37 L1007.19 527.81 L1022.21 527.81 L1023.21 593.23 L1028.21 593.23 L1029.21 598.53 L1030.21 598.53 L1031.21 728.88 L1038.22 728.88 L1039.22 727.37 L1054.24 727.37 L1055.24 726.64 L1070.25 726.64 L1071.25 726.39 L1078.26 726.39 L1079.26 727.69 L1086.27 727.69 L1087.27 729.02 L1094.28 729.02 L1095.28 726.72 L1126.31 726.72 L1127.31 726.88 L1134.32 726.88 L1135.32 727.85 L1142.32 727.85 L1143.32 727.80 L1174.35 727.80 L1175.36 726.81 L1182.36 726.81 L1183.36 726.37 L1190.37 726.37 L1191.37 726.84 L1198.38 726.84 L1199.38 727.47 L1214.39 727.47 L1215.39 727.54 L1222.40 727.54"/>
<path d="M198.40 726.52 L205.41 726.52 L206.41 726.95 L237.44 726.95 L238.44 725.61 L253.45 725.61 L254.46 727.25 L269.47 727.25 L270.47 727.07 L293.49 727.07 L294.49 683.80 L299.50 683.80 L300.50 689.12 L301.50 689.12 L302.50 571.78 L317.52 571.78 L318.52 576.72 L325.53 576.72 L326.53 589.36 L329.53 589.36 L330.53 698.85 L330.53 698.85 L331.53 697.11 L333.53 697.11 L334.53 733.84 L349.55 733.84 L350.55 695.57 L350.55 695.57 L351.55 691.09 L357.56 691.09 L358.56 685.09 L365.56 685.09 L366.57 691.63 L381.58 691.63 L382.58 689.97 L397.60 689.97 L398.60 682.32 L405.60 682.32 L406.60 690.09 L429.63 690.09 L430.63 725.40 L431.63 725.40 L432.63 726.85 L437.63 726.85 L438.64 737.27 L453.65 737.27 L454.65 650.77 L469.67 650.77 L470.67 655.58 L477.67 655.58 L478.67 648.81 L485.68 648.81 L486.68 655.38 L501.70 655.38 L502.70 650.50 L509.71 650.50 L510.71 645.78 L525.72 645.78 L526.72 650.46 L533.73 650.46 L534.73 651.94 L565.76 651.94 L566.76 649.41 L573.77 649.41 L574.77 643.55 L581.78 643.55 L582.78 649.71 L593.79 649.71 L594.79 651.75 L595.79 651.75 L596.79 649.71 L597.79 649.71 L598.79 654.58 L605.80 654.58 L606.80 723.16 L613.81 723.16 L614.81 734.98 L621.81 734.98 L622.82 735.50 L629.82 735.50 L630.82 735.15 L637.83 735.15 L638.83 735.94 L645.84 735.94 L646.84 724.51 L647.84 724.51 L648.84 723.67 L653.85 723.67 L654.85 717.88 L661.85 717.88 L662.85 716.23 L669.86 716.23 L670.86 715.41 L677.87 715.41 L678.87 713.79 L693.89 713.79 L694.89 717.30 L695.89 717.30 L696.89 719.28 L697.89 719.28 L698.89 717.30 L725.92 717.30 L726.92 716.59 L741.93 716.59 L742.93 717.72 L749.94 717.72 L750.94 716.45 L757.95 716.45 L758.95 716.34 L765.96 716.34 L766.96 714.97 L773.96 714.97 L774.96 721.35 L781.97 721.35 L782.97 717.05 L789.98 717.05 L790.98 716.89 L797.99 716.89 L798.99 718.02 L805.99 718.02 L807.00 715.80 L822.01 715.80 L823.01 715.72 L830.02 715.72 L831.02 718.35 L862.05 718.35 L863.05 455.97 L863.05 455.97 L864.05 448.04 L870.06 448.04 L871.06 358.19 L878.07 358.19 L879.07 334.09 L910.10 334.09 L911.10 352.38 L918.10 352.38 L919.11 382.66 L926.11 382.66 L927.11 372.05 L942.13 372.05 L943.13 326.42 L974.16 326.42 L975.16 589.74 L976.16 589.74 L977.16 619.86 L980.16 619.86 L981.17 702.27 L982.17 702.27 L983.17 698.83 L990.17 698.83 L991.18 694.96 L996.18 694.96 L997.18 521.78 L998.18 521.78 L999.18 513.57 L1006.19 513.57 L1007.19 534.86 L1012.20 534.86 L1013.20 490.50 L1016.20 490.50 L1017.20 534.86 L1022.21 534.86 L1023.21 541.40 L1026.21 541.40 L1027.21 634.67 L1028.21 634.67 L1029.21 638.49 L1030.21 638.49 L1031.21 728.23 L1038.22 728.23 L1039.22 726.70 L1046.23 726.70 L1047.23 727.40 L1054.24 727.40 L1055.24 727.10 L1070.25 727.10 L1071.25 726.59 L1086.27 726.59 L1087.27 729.39 L1094.28 729.39 L1095.28 726.89 L1102.28 726.89 L1103.29 728.01 L1118.30 728.01 L1119.30 726.46 L1126.31 726.46 L1127.31 727.77 L1134.32 727.77 L1135.32 728.15 L1166.35 728.15 L1167.35 726.67 L1182.36 726.67 L1183.36 726.03 L1190.37 726.03 L1191.37 726.40 L1206.39 726.40 L1207.39 727.02 L1222.40 727.02"/>
<path d="M198.40 726.18 L205.41 726.18 L206.41 725.22 L209.41 725.22 L210.41 725.15 L213.42 725.15 L214.42 727.35 L221.42 727.35 L222.42 725.46 L229.43 725.46 L230.43 725.93 L235.44 725.93 L236.44 726.67 L239.44 726.67 L240.44 725.93 L245.45 725.93 L246.45 727.52 L253.45 727.52 L254.46 727.92 L285.49 727.92 L286.49 727.22 L297.50 727.22 L298.50 641.53 L299.50 641.53 L300.50 650.72 L301.50 650.72 L302.50 572.88 L317.52 572.88 L318.52 576.54 L323.52 576.54 L324.52 582.91 L325.53 582.91 L326.53 626.51 L330.53 626.51 L331.53 621.86 L333.53 621.86 L334.53 734.78 L341.54 734.78 L342.54 734.14 L349.55 734.14 L350.55 697.32 L350.55 697.32 L351.55 693.00 L357.56 693.00 L358.56 687.23 L359.56 687.23 L360.56 691.13 L361.56 691.13 L362.56 687.23 L373.57 687.23 L374.57 688.86 L389.59 688.86 L390.59 692.17 L395.59 692.17 L396.59 683.77 L397.60 683.77 L398.60 690.62 L429.63 690.62 L430.63 712.69 L431.63 712.69 L432.63 715.26 L433.63 715.26 L434.63 737.44 L437.63 737.44 L438.64 737.51 L445.64 737.51 L446.64 737.38 L453.65 737.38 L454.65 644.43 L485.68 644.43 L486.68 636.33 L493.69 636.33 L494.69 643.48 L501.70 643.48 L502.70 642.55 L517.71 642.55 L518.71 644.71 L533.73 644.71 L534.73 647.06 L541.74 647.06 L542.74 655.62 L549.74 655.62 L550.75 653.38 L557.75 653.38 L558.75 649.14 L573.77 649.14 L574.77 643.03 L581.78 643.03 L582.78 667.62 L589.78 667.62 L590.78 642.73 L605.80 642.73 L606.80 723.59 L613.81 723.59 L614.81 735.14 L621.81 735.14 L622.82 735.43 L629.82 735.43 L630.82 735.69 L637.83 735.69 L638.83 735.95 L645.84 735.95 L646.84 727.88 L647.84 727.88 L648.84 727.21 L649.84 727.21 L650.84 718.75 L653.85 718.75 L654.85 717.74 L661.85 717.74 L662.85 716.94 L693.89 716.94 L694.89 717.06 L709.90 717.06 L710.90 718.51 L717.91 718.51 L718.91 720.05 L725.92 720.05 L726.92 715.20 L733.92 715.20 L734.93 717.99 L741.93 717.99 L742.93 718.90 L749.94 718.90 L750.94 717.44 L781.97 717.44 L782.97 717.83 L789.98 717.83 L790.98 716.01 L797.99 716.01 L798.99 716.71 L830.02 716.71 L831.02 716.14 L838.03 716.14 L839.03 717.27 L854.04 717.27 L855.04 717.64 L862.05 717.64 L863.05 443.54 L863.05 443.54 L864.05 435.26 L866.05 435.26 L867.05 341.36 L870.06 341.36 L871.06 335.07 L878.07 335.07 L879.07 354.31 L894.08 354.31 L895.08 308.88 L902.09 308.88 L903.09 325.94 L910.10 325.94 L911.10 330.78 L918.10 330.78 L919.11 347.02 L934.12 347.02 L935.12 391.79 L942.13 391.79 L943.13 340.58 L958.14 340.58 L959.14 344.83 L974.16 344.83 L975.16 355.48 L976.16 355.48 L977.16 698.07 L990.17 698.07 L991.18 663.97 L996.18 663.97 L997.18 643.88 L998.18 643.88 L999.18 524.63 L1006.19 524.63 L1007.19 524.22 L1014.20 524.22 L1015.20 518.77 L1022.21 518.77 L1023.21 570.67 L1028.21 570.67 L1029.21 576.78 L1030.21 576.78 L1031.21 727.46 L1046.23 727.46 L1047.23 725.63 L1054.24 725.63 L1055.24 727.40 L1086.27 727.40 L1087.27 727.24 L1094.28 727.24 L1095.28 726.82 L1126.31 726.82 L1127.31 726.08 L1134.32 726.08 L1135.32 727.50 L1166.35 727.50 L1167.35 726.95 L1182.36 726.95 L1183.36 727.54 L1190.37 727.54 L1191.37 726.50 L1206.39 726.50 L1207.39 727.79 L1214.39 727.79 L1215.39 727.96 L1222.40 727.96"/>
<path d="M198.40 729.21 L205.41 729.21 L206.41 724.94 L213.42 724.94 L214.42 727.71 L221.42 727.71 L222.42 725.94 L237.44 725.94 L238.44 724.60 L245.45 724.60 L246.45 727.83 L261.46 727.83 L262.46 727.73 L277.48 727.73 L278.48 727.74 L293.49 727.74 L294.49 686.44 L299.50 686.44 L300.50 691.51 L301.50 691.51 L302.50 578.97 L309.51 578.97 L310.51 583.61 L317.52 583.61 L318.52 573.14 L325.53 573.14 L326.53 567.72 L330.53 567.72 L331.53 734.13 L333.53 734.13 L334.53 735.05 L341.54 735.05 L342.54 733.99 L349.55 733.99 L350.55 705.02 L350.55 705.02 L351.55 701.45 L353.55 701.45 L354.55 690.63 L365.56 690.63 L366.57 689.78 L381.58 689.78 L382.58 688.71 L389.59 688.71 L390.59 689.51 L397.60 689.51 L398.60 686.99 L429.63 686.99 L430.63 725.34 L431.63 725.34 L432.63 726.80 L437.63 726.80 L438.64 737.57 L445.64 737.57 L446.64 737.74 L453.65 737.74 L454.65 654.82 L461.66 654.82 L462.66 650.32 L477.67 650.32 L478.67 643.60 L485.68 643.60 L486.68 648.70 L501.70 648.70 L502.70 651.96 L533.73 651.96 L534.73 648.47 L549.74 648.47 L550.75 648.90 L551.75 648.90 L552.75 663.57 L557.75 663.57 L558.75 648.90 L565.76 648.90 L566.76 649.41 L581.78 649.41 L582.78 648.42 L605.80 648.42 L606.80 724.63 L613.81 724.63 L614.81 735.69 L621.81 735.69 L622.82 735.81 L629.82 735.81 L630.82 735.37 L637.83 735.37 L638.83 735.51 L645.84 735.51 L646.84 722.21 L647.84 722.21 L648.84 721.26 L653.85 721.26 L654.85 716.64 L677.87 716.64 L678.87 717.80 L693.89 717.80 L694.89 720.73 L701.89 720.73 L702.89 718.78 L717.91 718.78 L718.91 717.13 L725.92 717.13 L726.92 718.44 L741.93 718.44 L742.93 717.19 L749.94 717.19 L750.94 718.84 L781.97 718.84 L782.97 717.87 L797.99 717.87 L798.99 716.35 L814.00 716.35 L815.00 717.05 L822.01 717.05 L823.01 718.99 L830.02 718.99 L831.02 716.41 L838.03 716.41 L839.03 716.53 L846.03 716.53 L847.03 715.62 L854.04 715.62 L855.04 715.81 L862.05 715.81 L863.05 720.56 L863.05 720.56 L864.05 389.70 L868.06 389.70 L869.06 282.28 L872.06 282.28 L873.06 342.79 L886.07 342.79 L887.07 346.23 L918.10 346.23 L919.11 318.42 L926.11 318.42 L927.11 307.48 L934.12 307.48 L935.12 330.61 L950.14 330.61 L951.14 315.28 L958.14 315.28 L959.14 341.14 L964.15 341.14 L965.15 311.05 L972.16 311.05 L973.16 341.14 L974.16 341.14 L975.16 599.41 L976.16 599.41 L977.16 627.61 L982.17 627.61 L983.17 696.50 L990.17 696.50 L991.18 667.38 L996.18 667.38 L997.18 648.17 L998.18 648.17 L999.18 534.15 L1006.19 534.15 L1007.19 540.40 L1022.21 540.40 L1023.21 575.02 L1028.21 575.02 L1029.21 580.97 L1030.21 580.97 L1031.21 727.30 L1054.24 727.30 L1055.24 726.82 L1086.27 726.82 L1087.27 728.13 L1094.28 728.13 L1095.28 728.51 L1110.29 728.51 L1111.29 727.75 L1118.30 727.75 L1119.30 725.93 L1134.32 725.93 L1135.32 725.76 L1142.32 725.76 L1143.32 727.91 L1174.35 727.91 L1175.36 727.60 L1190.37 727.60 L1191.37 727.90 L1196.38 727.90 L1197.38 725.55 L1200.38 725.55 L1201.38 727.90 L1222.40 727.90"/>
<path d="M198.40 725.95 L205.41 725.95 L206.41 727.97 L213.42 727.97 L214.42 726.88 L221.42 726.88 L222.42 727.30 L229.43 727.30 L230.43 727.00 L261.46 727.00 L262.46 727.06 L277.48 727.06 L278.48 727.33 L297.50 727.33 L298.50 642.28 L299.50 642.28 L300.50 651.40 L301.50 651.40 L302.50 574.15 L309.51 574.15 L310.51 577.15 L317.52 577.15 L318.52 569.80 L325.53 569.80 L326.53 631.57 L330.53 631.57 L331.53 627.12 L333.53 627.12 L334.53 734.21 L349.55 734.21 L350.55 697.73 L350.55 697.73 L351.55 693.46 L357.56 693.46 L358.56 687.74 L365.56 687.74 L366.57 690.32 L383.58 690.32 L384.58 682.31 L387.59 682.31 L388.59 690.32 L397.60 690.32 L398.60 685.14 L429.63 685.14 L430.63 711.03 L431.63 711.03 L432.63 713.75 L433.63 713.75 L434.63 737.19 L437.63 737.19 L438.64 737.63 L453.65 737.63 L454.65 652.44 L469.67 652.44 L470.67 653.95 L485.68 653.95 L486.68 642.30 L493.69 642.30 L494.69 655.14 L509.71 655.14 L510.71 644.08 L517.71 644.08 L518.71 653.03 L533.73 653.03 L534.73 637.88 L549.74 637.88 L550.75 638.84 L557.75 638.84 L558.75 654.56 L573.77 654.56 L574.77 649.30 L605.80 649.30 L606.80 725.76 L613.81 725.76 L614.81 735.93 L621.81 735.93 L622.82 736.60 L629.82 736.60 L630.82 735.52 L637.83 735.52 L638.83 735.92 L645.84 735.92 L646.84 727.80 L647.84 727.80 L648.84 727.12 L649.84 727.12 L650.84 718.62 L653.85 718.62 L654.85 716.99 L661.85 716.99 L662.85 718.20 L669.86 718.20 L670.86 716.33 L685.88 716.33 L686.88 716.88 L701.89 716.88 L702.89 714.95 L709.90 714.95 L710.90 715.84 L717.91 715.84 L718.91 717.91 L733.92 717.91 L734.93 716.89 L765.96 716.89 L766.96 718.37 L773.96 718.37 L774.96 719.71 L781.97 719.71 L782.97 719.10 L789.98 719.10 L790.98 717.62 L797.99 717.62 L798.99 717.64 L830.02 717.64 L831.02 716.71 L862.05 716.71 L863.05 375.89 L863.05 375.89 L864.05 365.74 L866.05 365.74 L867.05 325.13 L868.06 325.13 L869.06 365.74 L870.06 365.74 L871.06 315.79 L894.08 315.79 L895.08 320.28 L902.09 320.28 L903.09 321.76 L906.09 321.76 L907.09 337.42 L912.10 337.42 L913.10 321.76 L918.10 321.76 L919.11 335.00 L950.14 335.00 L951.14 356.48 L966.15 356.48 L967.15 327.89 L974.16 327.89 L975.16 594.50 L976.16 594.50 L977.16 623.67 L982.17 623.67 L983.17 701.78 L990.17 701.78 L991.18 697.34 L994.18 697.34 L995.18 636.58 L996.18 636.58 L997.18 609.41 L998.18 609.41 L999.18 532.97 L1020.20 532.97 L1021.20 535.98 L1022.21 535.98 L1023.21 525.01 L1026.21 525.01 L1027.21 625.91 L1028.21 625.91 L1029.21 630.04 L1030.21 630.04 L1031.21 727.24 L1062.24 727.24 L1063.25 728.36 L1070.25 728.36 L1071.25 726.79 L1078.26 726.79 L1079.26 727.10 L1086.27 727.10 L1087.27 727.48 L1094.28 727.48 L1095.28 726.36 L1102.28 726.36 L1103.29 727.64 L1134.32 727.64 L1135.32 727.83 L1166.35 727.83 L1167.35 725.58 L1174.35 725.58 L1175.36 728.40 L1182.36 728.40 L1183.36 727.23 L1198.38 727.23 L1199.38 726.64 L1214.39 726.64 L1215.39 727.57 L1222.40 727.57"/>
<path d="M198.40 727.30 L203.41 727.30 L204.41 727.49 L207.41 727.49 L208.41 725.14 L213.42 725.14 L214.42 728.39 L245.45 728.39 L246.45 725.69 L253.45 725.69 L254.46 726.71 L261.46 726.71 L262.46 728.28 L269.47 728.28 L270.47 727.57 L277.48 727.57 L278.48 726.92 L293.49 726.92 L294.49 689.13 L299.50 689.13 L300.50 693.95 L301.50 693.95 L302.50 579.46 L309.51 579.46 L310.51 610.59 L313.51 610.59 L314.51 579.46 L317.52 579.46 L318.52 560.53 L325.53 560.53 L326.53 625.63 L330.53 625.63 L331.53 620.94 L333.53 620.94 L334.53 734.05 L349.55 734.05 L350.55 702.12 L350.55 702.12 L351.55 698.27 L353.55 698.27 L354.55 686.60 L365.56 686.60 L366.57 688.64 L381.58 688.64 L382.58 687.46 L389.59 687.46 L390.59 688.53 L421.62 688.53 L422.62 690.76 L429.63 690.76 L430.63 724.74 L431.63 724.74 L432.63 726.25 L437.63 726.25 L438.64 737.41 L445.64 737.41 L446.64 736.93 L453.65 736.93 L454.65 637.44 L461.66 637.44 L462.66 649.65 L477.67 649.65 L478.67 642.77 L485.68 642.77 L486.68 653.26 L493.69 653.26 L494.69 650.06 L509.71 650.06 L510.71 653.12 L525.72 653.12 L526.72 648.97 L533.73 648.97 L534.73 644.28 L549.74 644.28 L550.75 654.53 L581.78 654.53 L582.78 658.20 L589.78 658.20 L590.78 650.87 L597.79 650.87 L598.79 649.22 L605.80 649.22 L606.80 658.19 L606.80 658.19 L607.80 736.18 L613.81 736.18 L614.81 735.49 L621.81 735.49 L622.82 735.92 L629.82 735.92 L630.82 735.00 L645.84 735.00 L646.84 725.63 L647.84 725.63 L648.84 724.85 L649.84 724.85 L650.84 715.02 L661.85 715.02 L662.85 717.84 L677.87 717.84 L678.87 714.09 L685.88 714.09 L686.88 716.22 L701.89 716.22 L702.89 714.68 L709.90 714.68 L710.90 717.53 L725.92 717.53 L726.92 718.94 L733.92 718.94 L734.93 718.99 L749.94 718.99 L750.94 718.29 L757.95 718.29 L758.95 718.02 L773.96 718.02 L774.96 716.73 L781.97 716.73 L782.97 719.17 L789.98 719.17 L790.98 714.80 L797.99 714.80 L798.99 718.23 L830.02 718.23 L831.02 717.16 L862.05 717.16 L863.05 407.14 L863.05 407.14 L864.05 397.85 L870.06 397.85 L871.06 352.17 L878.07 352.17 L879.07 347.90 L910.10 347.90 L911.10 352.30 L924.11 352.30 L925.11 252.11 L930.12 252.11 L931.12 331.11 L934.12 331.11 L935.12 342.30 L950.14 342.30 L951.14 326.08 L958.14 326.08 L959.14 312.05 L974.16 312.05 L975.16 347.11 L976.16 347.11 L977.16 697.12 L990.17 697.12 L991.18 666.59 L996.18 666.59 L997.18 647.17 L998.18 647.17 L999.18 531.92 L1006.19 531.92 L1007.19 503.19 L1022.21 503.19 L1023.21 557.91 L1028.21 557.91 L1029.21 564.47 L1030.21 564.47 L1031.21 726.54 L1038.22 726.54 L1039.22 727.07 L1046.23 727.07 L1047.23 726.71 L1054.24 726.71 L1055.24 727.11 L1062.24 727.11 L1063.25 729.42 L1066.25 729.42 L1067.25 730.09 L1070.25 730.09 L1071.25 726.57 L1078.26 726.57 L1079.26 727.81 L1110.29 727.81 L1111.29 727.90 L1118.30 727.90 L1119.30 728.44 L1134.32 728.44 L1135.32 728.05 L1142.32 728.05 L1143.32 728.59 L1158.34 728.59 L1159.34 727.84 L1166.35 727.84 L1167.35 727.87 L1182.36 727.87 L1183.36 727.01 L1190.37 727.01 L1191.37 727.41 L1222.40 727.41"/>
<path d="M198.40 727.87 L213.42 727.87 L214.42 728.01 L221.42 728.01 L222.42 727.53 L237.44 727.53 L238.44 726.08 L245.45 726.08 L246.45 726.12 L277.48 726.12 L278.48 728.33 L293.49 728.33 L294.49 688.75 L299.50 688.75 L300.50 693.61 L301.50 693.61 L302.50 585.76 L309.51 585.76 L310.51 567.98 L325.53 567.98 L326.53 630.40 L330.53 630.40 L331.53 625.90 L333.53 625.90 L334.53 734.14 L341.54 734.14 L342.54 734.42 L349.55 734.42 L350.55 698.97 L350.55 698.97 L351.55 694.82 L357.56 694.82 L358.56 687.03 L367.57 687.03 L368.57 683.84 L375.57 683.84 L376.58 689.77 L381.58 689.77 L382.58 688.37 L389.59 688.37 L390.59 688.06 L421.62 688.06 L422.62 683.59 L429.63 683.59 L430.63 723.34 L431.63 723.34 L432.63 724.97 L437.63 724.97 L438.64 737.64 L453.65 737.64 L454.65 652.67 L469.67 652.67 L470.67 651.99 L501.70 651.99 L502.70 648.80 L503.70 648.80 L504.70 651.43 L509.71 651.43 L510.71 647.02 L541.74 647.02 L542.74 651.85 L549.74 651.85 L550.75 646.97 L565.76 646.97 L566.76 651.35 L597.79 651.35 L598.79 648.79 L605.80 648.79 L606.80 724.70 L613.81 724.70 L614.81 736.63 L621.81 736.63 L622.82 734.91 L629.82 734.91 L630.82 735.82 L645.84 735.82 L646.84 727.58 L647.84 727.58 L648.84 726.89 L649.84 726.89 L650.84 718.25 L661.85 718.25 L662.85 716.36 L669.86 716.36 L670.86 715.35 L677.87 715.35 L678.87 718.55 L693.89 718.55 L694.89 718.30 L725.92 718.30 L726.92 716.98 L733.92 716.98 L734.93 717.54 L765.96 717.54 L766.96 716.39 L773.96 716.39 L774.96 716.13 L789.98 716.13 L790.98 718.49 L797.99 718.49 L798.99 717.66 L814.00 717.66 L815.00 717.58 L820.01 717.58 L821.01 723.39 L828.02 723.39 L829.02 717.58 L830.02 717.58 L831.02 716.48 L846.03 716.48 L847.03 717.58 L862.05 717.58 L863.05 442.78 L863.05 442.78 L864.05 434.48 L866.05 434.48 L867.05 340.34 L878.07 340.34 L879.07 361.14 L886.07 361.14 L887.07 253.44 L894.08 253.44 L895.08 361.14 L910.10 361.14 L911.10 367.37 L926.11 367.37 L927.11 353.53 L958.14 353.53 L959.14 341.98 L974.16 341.98 L975.16 498.38 L976.16 498.38 L977.16 546.59 L978.16 546.59 L979.16 693.50 L990.17 693.50 L991.18 659.05 L996.18 659.05 L997.18 637.69 L998.18 637.69 L999.18 510.90 L1006.19 510.90 L1007.19 535.75 L1022.21 535.75 L1023.21 522.88 L1026.21 522.88 L1027.21 624.77 L1028.21 624.77 L1029.21 628.94 L1030.21 628.94 L1031.21 727.20 L1054.24 727.20 L1055.24 726.97 L1062.24 726.97 L1063.25 728.32 L1078.26 728.32 L1079.26 727.20 L1094.28 727.20 L1095.28 727.73 L1110.29 727.73 L1111.29 727.30 L1126.31 727.30 L1127.31 728.12 L1134.32 728.12 L1135.32 728.32 L1142.32 728.32 L1143.32 728.13 L1150.33 728.13 L1151.33 726.39 L1166.35 726.39 L1167.35 728.91 L1174.35 728.91 L1175.36 727.13 L1182.36 727.13 L1183.36 727.71 L1190.37 727.71 L1191.37 725.87 L1206.39 725.87 L1207.39 728.15 L1222.40 728.15"/>
<path d="M198.40 726.68 L205.41 726.68 L206.41 728.61 L209.41 728.61 L210.41 727.94 L237.44 727.94 L238.44 728.52 L245.45 728.52 L246.45 727.52 L253.45 727.52 L254.46 725.98 L261.46 725.98 L262.46 728.67 L277.48 728.67 L278.48 728.35 L285.49 728.35 L286.49 726.01 L293.49 726.01 L294.49 681.75 L299.50 681.75 L300.50 687.26 L301.50 687.26 L302.50 580.33 L309.51 580.33 L310.51 572.57 L317.52 572.57 L318.52 588.09 L325.53 588.09 L326.53 629.56 L330.53 629.56 L331.53 625.03 L333.53 625.03 L334.53 734.08 L341.54 734.08 L342.54 733.68 L349.55 733.68 L350.55 699.53 L350.55 699.53 L351.55 695.42 L353.55 695.42 L354.55 682.99 L357.56 682.99 L358.56 687.22 L389.59 687.22 L390.59 683.01 L405.60 683.01 L406.60 682.56 L413.61 682.56 L414.61 687.85 L421.62 687.85 L422.62 692.35 L423.62 692.35 L424.62 694.36 L429.63 694.36 L430.63 724.98 L431.63 724.98 L432.63 726.46 L437.63 726.46 L438.64 737.47 L453.65 737.47 L454.65 649.00 L461.66 649.00 L462.66 645.45 L469.67 645.45 L470.67 649.86 L477.67 649.86 L478.67 654.15 L487.68 654.15 L488.68 641.38 L489.69 641.38 L490.69 654.15 L493.69 654.15 L494.69 646.45 L509.71 646.45 L510.71 649.19 L517.71 649.19 L518.71 644.52 L525.72 644.52 L526.72 647.14 L533.73 647.14 L534.73 658.17 L541.74 658.17 L542.74 649.83 L557.75 649.83 L558.75 649.75 L573.77 649.75 L574.77 652.90 L581.78 652.90 L582.78 652.70 L589.78 652.70 L590.78 652.75 L605.80 652.75 L606.80 724.98 L613.81 724.98 L614.81 735.65 L621.81 735.65 L622.82 735.44 L637.83 735.44 L638.83 736.29 L645.84 736.29 L646.84 725.04 L647.84 725.04 L648.84 724.22 L653.85 724.22 L654.85 718.52 L685.88 718.52 L686.88 718.23 L693.89 718.23 L694.89 716.26 L709.90 716.26 L710.90 718.41 L717.91 718.41 L718.91 718.22 L725.92 718.22 L726.92 718.29 L741.93 718.29 L742.93 716.69 L773.96 716.69 L774.96 715.64 L781.97 715.64 L782.97 718.05 L789.98 718.05 L790.98 717.53 L797.99 717.53 L798.99 716.47 L814.00 716.47 L815.00 716.68 L822.01 716.68 L823.01 719.17 L838.03 719.17 L839.03 717.05 L846.03 717.05 L847.03 715.52 L854.04 715.52 L855.04 718.33 L862.05 718.33 L863.05 713.82 L863.05 713.82 L864.05 278.06 L870.06 278.06 L871.06 343.48 L900.09 343.48 L901.09 396.52 L904.09 396.52 L905.09 343.86 L918.10 343.86 L919.11 359.34 L950.14 359.34 L951.14 302.44 L966.15 302.44 L967.15 356.69 L976.16 356.69 L977.16 698.20 L982.17 698.20 L983.17 691.90 L990.17 691.90 L991.18 661.42 L996.18 661.42 L997.18 640.67 L998.18 640.67 L999.18 530.29 L1014.20 530.29 L1015.20 527.80 L1026.21 527.80 L1027.21 627.40 L1028.21 627.40 L1029.21 631.48 L1030.21 631.48 L1031.21 726.71 L1038.22 726.71 L1039.22 727.36 L1046.23 727.36 L1047.23 728.84 L1056.24 728.84 L1057.24 726.83 L1062.24 726.83 L1063.25 727.00 L1094.28 727.00 L1095.28 727.43 L1102.28 727.43 L1103.29 727.89 L1110.29 727.89 L1111.29 727.56 L1118.30 727.56 L1119.30 726.97 L1134.32 726.97 L1135.32 727.23 L1142.32 727.23 L1143.32 726.13 L1150.33 726.13 L1151.33 727.63 L1182.36 727.63 L1183.36 727.36 L1214.39 727.36 L1215.39 727.56 L1222.40 727.56"/>
<path d="M198.40 730.29 L205.41 730.29 L206.41 727.44 L221.42 727.44 L222.42 727.52 L229.43 727.52 L230.43 727.38 L237.44 727.38 L238.44 727.83 L269.47 727.83 L270.47 726.68 L293.49 726.68 L294.49 682.24 L299.50 682.24 L300.50 687.70 L301.50 687.70 L302.50 574.43 L309.51 574.43 L310.51 578.09 L311.51 578.09 L312.51 577.70 L315.52 577.70 L316.52 578.09 L317.52 578.09 L318.52 564.02 L325.53 564.02 L326.53 627.86 L330.53 627.86 L331.53 623.26 L333.53 623.26 L334.53 734.17 L349.55 734.17 L350.55 702.74 L350.55 702.74 L351.55 698.95 L353.55 698.95 L354.55 687.46 L365.56 687.46 L366.57 687.15 L373.57 687.15 L374.57 693.65 L381.58 693.65 L382.58 691.32 L389.59 691.32 L390.59 690.81 L421.62 690.81 L422.62 692.19 L429.63 692.19 L430.63 724.65 L431.63 724.65 L432.63 726.16 L437.63 726.16 L438.64 737.23 L453.65 737.23 L454.65 650.22 L469.67 650.22 L470.67 651.07 L485.68 651.07 L486.68 655.17 L501.70 655.17 L502.70 640.62 L517.71 640.62 L518.71 652.23 L549.74 652.23 L550.75 645.78 L557.75 645.78 L558.75 648.61 L573.77 648.61 L574.77 653.77 L589.78 653.77 L590.78 654.69 L605.80 654.69 L606.80 715.50 L609.80 715.50 L610.80 735.91 L613.81 735.91 L614.81 735.63 L645.84 735.63 L646.84 724.04 L647.84 724.04 L648.84 723.18 L653.85 723.18 L654.85 718.99 L677.87 718.99 L678.87 717.57 L709.90 717.57 L710.90 716.78 L725.92 716.78 L726.92 717.80 L741.93 717.80 L742.93 716.09 L749.94 716.09 L750.94 721.84 L757.95 721.84 L758.95 718.00 L789.98 718.00 L790.98 718.16 L805.99 718.16 L807.00 716.26 L822.01 716.26 L823.01 718.48 L838.03 718.48 L839.03 716.77 L862.05 716.77 L863.05 432.73 L863.05 432.73 L864.05 424.15 L866.05 424.15 L867.05 326.84 L870.06 326.84 L871.06 379.88 L872.06 379.88 L873.06 323.57 L878.07 323.57 L879.07 328.52 L886.07 328.52 L887.07 344.98 L894.08 344.98 L895.08 344.19 L896.08 344.19 L897.08 285.30 L904.09 285.30 L905.09 344.19 L914.10 344.19 L915.10 394.22 L916.10 394.22 L917.10 344.19 L926.11 344.19 L927.11 319.39 L942.13 319.39 L943.13 297.70 L958.14 297.70 L959.14 367.69 L966.15 367.69 L967.15 337.88 L974.16 337.88 L975.16 598.73 L976.16 598.73 L977.16 627.06 L982.17 627.06 L983.17 696.29 L990.17 696.29 L991.18 665.19 L996.18 665.19 L997.18 645.41 L998.18 645.41 L999.18 528.02 L1006.19 528.02 L1007.19 503.48 L1022.21 503.48 L1023.21 568.01 L1028.21 568.01 L1029.21 574.21 L1030.21 574.21 L1031.21 726.69 L1054.24 726.69 L1055.24 727.94 L1062.24 727.94 L1063.25 727.47 L1078.26 727.47 L1079.26 727.82 L1086.27 727.82 L1087.27 727.06 L1118.30 727.06 L1119.30 726.83 L1134.32 726.83 L1135.32 726.16 L1142.32 726.16 L1143.32 730.76 L1150.33 730.76 L1151.33 726.08 L1158.34 726.08 L1159.34 727.52 L1174.35 727.52 L1175.36 725.78 L1182.36 725.78 L1183.36 727.94 L1214.39 727.94 L1215.39 728.23 L1222.40 728.23"/>
<path d="M198.40 729.41 L205.41 729.41 L206.41 725.18 L213.42 725.18 L214.42 727.81 L245.45 727.81 L246.45 726.63 L253.45 726.63 L254.46 729.21 L261.46 729.21 L262.46 727.65 L277.48 727.65 L278.48 727.64 L293.49 727.64 L294.49 683.53 L299.50 683.53 L300.50 688.87 L301.50 688.87 L302.50 568.26 L309.51 568.26 L310.51 589.54 L317.52 589.54 L318.52 575.47 L325.53 575.47 L326.53 631.76 L330.53 631.76 L331.53 627.32 L333.53 627.32 L334.53 734.23 L341.54 734.23 L342.54 734.78 L349.55 734.78 L350.55 700.04 L350.55 700.04 L351.55 695.99 L357.56 695.99 L358.56 683.13 L373.57 683.13 L374.57 689.08 L381.58 689.08 L382.58 689.91 L405.60 689.91 L406.60 688.58 L429.63 688.58 L430.63 712.81 L431.63 712.81 L432.63 715.37 L433.63 715.37 L434.63 737.46 L437.63 737.46 L438.64 737.32 L445.64 737.32 L446.64 737.66 L453.65 737.66 L454.65 652.95 L461.66 652.95 L462.66 661.12 L469.67 661.12 L470.67 653.54 L485.68 653.54 L486.68 652.34 L501.70 652.34 L502.70 648.45 L517.71 648.45 L518.71 640.70 L525.72 640.70 L526.72 658.09 L535.73 658.09 L536.73 667.55 L543.74 667.55 L544.74 646.77 L557.75 646.77 L558.75 648.60 L561.76 648.60 L562.76 661.04 L565.76 661.04 L566.76 645.46 L573.77 645.46 L574.77 652.30 L589.78 652.30 L590.78 648.80 L605.80 648.80 L606.80 712.89 L609.80 712.89 L610.80 735.33 L613.81 735.33 L614.81 735.07 L621.81 735.07 L622.82 735.60 L637.83 735.60 L638.83 734.48 L645.84 734.48 L646.84 723.18 L647.84 723.18 L648.84 722.28 L653.85 722.28 L654.85 718.04 L661.85 718.04 L662.85 715.35 L669.86 715.35 L670.86 719.81 L677.87 719.81 L678.87 718.92 L693.89 718.92 L694.89 712.60 L701.89 712.60 L702.89 715.95 L717.91 715.95 L718.91 717.88 L725.92 717.88 L726.92 718.06 L757.95 718.06 L758.95 717.26 L789.98 717.26 L790.98 717.21 L797.99 717.21 L798.99 715.93 L805.99 715.93 L807.00 717.67 L838.03 717.67 L839.03 719.09 L854.04 719.09 L855.04 717.83 L862.05 717.83 L863.05 400.49 L863.05 400.49 L864.05 391.02 L866.05 391.02 L867.05 345.86 L874.06 345.86 L875.06 344.43 L886.07 344.43 L887.07 317.98 L902.09 317.98 L903.09 352.56 L906.09 352.56 L907.09 341.12 L910.10 341.12 L911.10 352.56 L918.10 352.56 L919.11 327.48 L934.12 327.48 L935.12 343.43 L942.13 343.43 L943.13 372.73 L950.14 372.73 L951.14 320.20 L958.14 320.20 L959.14 315.64 L966.15 315.64 L967.15 361.33 L974.16 361.33 L975.16 595.40 L976.16 595.40 L977.16 624.39 L982.17 624.39 L983.17 695.23 L990.17 695.23 L991.18 662.63 L996.18 662.63 L997.18 642.20 L998.18 642.20 L999.18 520.90 L1006.19 520.90 L1007.19 522.01 L1022.21 522.01 L1023.21 533.40 L1026.21 533.40 L1027.21 630.39 L1028.21 630.39 L1029.21 634.37 L1030.21 634.37 L1031.21 727.90 L1054.24 727.90 L1055.24 727.63 L1062.24 727.63 L1063.25 725.73 L1070.25 725.73 L1071.25 727.63 L1086.27 727.63 L1087.27 727.53 L1118.30 727.53 L1119.30 728.66 L1134.32 728.66 L1135.32 728.90 L1142.32 728.90 L1143.32 727.34 L1158.34 727.34 L1159.34 728.66 L1166.35 728.66 L1167.35 727.30 L1198.38 727.30 L1199.38 728.63 L1214.39 728.63 L1215.39 726.37 L1222.40 726.37"/>
<path d="M198.40 726.86 L213.42 726.86 L214.42 727.63 L221.42 727.63 L222.42 726.89 L229.43 726.89 L230.43 726.23 L245.45 726.23 L246.45 726.76 L277.48 726.76 L278.48 727.54 L293.49 727.54 L294.49 685.65 L299.50 685.65 L300.50 690.80 L301.50 690.80 L302.50 576.64 L309.51 576.64 L310.51 584.58 L317.52 584.58 L318.52 572.18 L325.53 572.18 L326.53 633.09 L330.53 633.09 L331.53 628.71 L333.53 628.71 L334.53 734.33 L349.55 734.33 L350.55 698.36 L350.55 698.36 L351.55 694.15 L357.56 694.15 L358.56 682.38 L365.56 682.38 L366.57 695.20 L381.58 695.20 L382.58 692.12 L389.59 692.12 L390.59 685.37 L397.60 685.37 L398.60 690.94 L429.63 690.94 L430.63 724.90 L431.63 724.90 L432.63 726.40 L437.63 726.40 L438.64 737.45 L445.64 737.45 L446.64 736.98 L453.65 736.98 L454.65 647.85 L461.66 647.85 L462.66 653.05 L469.67 653.05 L470.67 655.17 L477.67 655.17 L478.67 643.99 L485.68 643.99 L486.68 650.70 L501.70 650.70 L502.70 640.14 L509.71 640.14 L510.71 649.11 L525.72 649.11 L526.72 653.32 L557.75 653.32 L558.75 652.53 L573.77 652.53 L574.77 658.97 L581.78 658.97 L582.78 647.07 L589.78 647.07 L590.78 651.43 L597.79 651.43 L598.79 657.78 L605.80 657.78 L606.80 723.41 L613.81 723.41 L614.81 735.68 L621.81 735.68 L622.82 735.62 L637.83 735.62 L638.83 736.17 L645.84 736.17 L646.84 722.96 L647.84 722.96 L648.84 722.04 L653.85 722.04 L654.85 717.60 L677.87 717.60 L678.87 714.44 L693.89 714.44 L694.89 717.67 L709.90 717.67 L710.90 717.11 L741.93 717.11 L742.93 717.94 L757.95 717.94 L758.95 717.50 L773.96 717.50 L774.96 716.41 L789.98 716.41 L790.98 715.95 L822.01 715.95 L823.01 717.95 L830.02 717.95 L831.02 716.36 L838.03 716.36 L839.03 718.77 L854.04 718.77 L855.04 717.27 L862.05 717.27 L863.05 392.56 L863.05 392.56 L864.05 382.86 L870.06 382.86 L871.06 338.67 L878.07 338.67 L879.07 311.84 L886.07 311.84 L887.07 325.40 L918.10 325.40 L919.11 341.41 L926.11 341.41 L927.11 309.68 L958.14 309.68 L959.14 351.11 L966.15 351.11 L967.15 329.48 L974.16 329.48 L975.16 595.07 L976.16 595.07 L977.16 624.12 L982.17 624.12 L983.17 695.12 L990.17 695.12 L991.18 663.22 L996.18 663.22 L997.18 642.94 L998.18 642.94 L999.18 530.36 L1014.20 530.36 L1015.20 489.23 L1020.20 489.23 L1021.20 518.80 L1022.21 518.80 L1023.21 570.69 L1028.21 570.69 L1029.21 576.80 L1030.21 576.80 L1031.21 727.44 L1046.23 727.44 L1047.23 728.16 L1062.24 728.16 L1063.25 728.39 L1078.26 728.39 L1079.26 727.77 L1094.28 727.77 L1095.28 727.92 L1102.28 727.92 L1103.29 727.62 L1134.32 727.62 L1135.32 726.94 L1150.33 726.94 L1151.33 727.71 L1182.36 727.71 L1183.36 726.45 L1190.37 726.45 L1191.37 726.78 L1198.38 726.78 L1199.38 727.12 L1222.40 727.12"/>
<path d="M198.40 727.43 L217.42 727.43 L218.42 729.28 L219.42 729.28 L220.42 727.43 L229.43 727.43 L230.43 727.28 L237.44 727.28 L238.44 727.02 L269.47 727.02 L270.47 728.37 L277.48 728.37 L278.48 727.42 L293.49 727.42 L294.49 681.33 L299.50 681.33 L300.50 686.87 L301.50 686.87 L302.50 563.94 L309.51 563.94 L310.51 589.48 L317.52 589.48 L318.52 579.53 L323.52 579.53 L324.52 593.51 L327.53 593.51 L328.53 637.81 L330.53 637.81 L331.53 633.61 L333.53 633.61 L334.53 734.65 L349.55 734.65 L350.55 698.32 L350.55 698.32 L351.55 694.10 L357.56 694.10 L358.56 688.46 L365.56 688.46 L366.57 695.13 L397.60 695.13 L398.60 685.56 L405.60 685.56 L406.60 693.48 L413.61 693.48 L414.61 695.09 L421.62 695.09 L422.62 694.27 L429.63 694.27 L430.63 725.25 L431.63 725.25 L432.63 726.71 L437.63 726.71 L438.64 737.54 L445.64 737.54 L446.64 737.53 L453.65 737.53 L454.65 650.18 L461.66 650.18 L462.66 648.54 L493.69 648.54 L494.69 646.92 L509.71 646.92 L510.71 650.10 L541.74 650.10 L542.74 645.74 L549.74 645.74 L550.75 651.57 L565.76 651.57 L566.76 645.98 L581.78 645.98 L582.78 651.13 L605.80 651.13 L606.80 714.56 L609.80 714.56 L610.80 735.70 L613.81 735.70 L614.81 734.86 L621.81 734.86 L622.82 736.11 L637.83 736.11 L638.83 735.75 L645.84 735.75 L646.84 723.24 L647.84 723.24 L648.84 722.34 L653.85 722.34 L654.85 717.96 L669.86 717.96 L670.86 716.61 L677.87 716.61 L678.87 716.25 L685.88 716.25 L686.88 717.46 L693.89 717.46 L694.89 716.16 L701.89 716.16 L702.89 718.22 L709.90 718.22 L710.90 715.53 L717.91 715.53 L718.91 718.22 L733.92 718.22 L734.93 718.47 L749.94 718.47 L750.94 715.56 L765.96 715.56 L766.96 716.34 L781.97 716.34 L782.97 718.09 L789.98 718.09 L790.98 716.31 L822.01 716.31 L823.01 717.76 L838.03 717.76 L839.03 717.46 L846.03 717.46 L847.03 717.44 L862.05 717.44 L863.05 383.41 L863.05 383.41 L864.05 373.46 L870.06 373.46 L871.06 291.13 L874.06 291.13 L875.06 324.54 L894.08 324.54 L895.08 285.66 L902.09 285.66 L903.09 287.65 L910.10 287.65 L911.10 348.49 L942.13 348.49 L943.13 370.32 L974.16 370.32 L975.16 593.38 L976.16 593.38 L977.16 622.78 L982.17 622.78 L983.17 694.59 L996.18 694.59 L997.18 520.04 L1006.19 520.04 L1007.19 545.72 L1014.20 545.72 L1015.20 530.33 L1022.21 530.33 L1023.21 579.54 L1028.21 579.54 L1029.21 585.33 L1030.21 585.33 L1031.21 728.26 L1062.24 728.26 L1063.25 727.40 L1078.26 727.40 L1079.26 727.99 L1086.27 727.99 L1087.27 728.21 L1102.28 728.21 L1103.29 727.13 L1110.29 727.13 L1111.29 730.87 L1118.30 730.87 L1119.30 727.13 L1134.32 727.13 L1135.32 728.94 L1142.32 728.94 L1143.32 727.04 L1158.34 727.04 L1159.34 729.53 L1174.35 729.53 L1175.36 725.65 L1182.36 725.65 L1183.36 728.81 L1190.37 728.81 L1191.37 727.67 L1206.39 727.67 L1207.39 726.82 L1214.39 726.82 L1215.39 728.66 L1222.40 728.66"/>
<path d="M301.9 660 L302.4 460 L309.9 460 L310.4 493.75 L317.9 493.75 L318.4 500 L325.9 500 L326.4 660"/>
<path d="M301.9 660 L302.4 478 L305.9 478 L306.4 506 L317.9 506 L318.4 508.75 L325.9 508.75 L326.4 650"/>
<path d="M309.9 560 L310.4 517.5 L317.9 517.5 L318.4 530 L325.9 530 L326.4 600"/>
<path d="M309.9 600 L310.4 640 L317.9 640 L318.4 647 L325.9 647 L326.4 700"/>
<path d="M303.9 600 L304.4 628 L309.9 628 L310.4 600"/>
<path d="M871.5 400 L872.5 499.7 L886.5 499.7 L887.5 400"/>
<path d="M894.5 400 L895.5 480 L901.5 480 L902.5 400"/>
<path d="M918.5 400 L919.5 458.4 L926.5 458.4 L927.5 505 L933.5 505 L934.5 400"/>
<path d="M966.2 400 L967.2 505 L967.2 584.5 L973.5 584.5 L974.5 700"/>
<path d="M974 400 L975 512 L981.5 512 L982.5 690"/>
<path d="M862 720 L863 583 L870 583 L871 400"/>
<path d="M862 720 L863 545 L870 545 L871 420"/>
<path d="M998 600 L999 464 L1004.9 464 L1005.9 560"/>
<path d="M1007.4 560 L1008.4 478 L1014.5 478 L1015.5 474.5 L1022.5 474.5 L1023.5 560"/>
<path d="M1022.2 600 L1023.2 687 L1028 687 L1029 727"/>
<path d="M1006 560 L1007 612 L1014 612 L1015 627 L1022 627 L1023 700"/>
<path d="M654.2 715 L654.7 698.5 L662.2 698.5 L662.7 715"/>
<path d="M854.5 712 L855 693.5 L861.5 693.5 L862 712"/>
<path d="M589.8 660 L590.3 686 L605.8 686 L606.3 700"/>
<path d="M581.8 660 L582.3 680 L597.8 680 L598.3 660"/>
<path d="M597.8 660 L598.3 672 L605.8 672 L606.3 700"/>
<path d="M326.0 650.0 L327.0 395.5 L329.0 395.5 L330.0 650.0"/>
<path d="M301.5 600.0 L302.5 460.0 L309.5 460.0 L310.5 600.0"/>
<path d="M304.0 600.0 L305.0 478.0 L307.0 478.0 L308.0 600.0"/>
<path d="M597.8 640.0 L598.8 537.0 L606.2 537.0 L607.2 640.0"/>
<path d="M600.0 640.0 L601.0 541.0 L606.2 541.0 L607.2 640.0"/>
<path d="M602.5 640.0 L603.5 548.0 L606.2 548.0 L607.2 640.0"/>
<path d="M1022.4 600.0 L1023.4 300.0 L1026.0 300.0 L1027.0 600.0"/>
<path d="M886.5 400.0 L887.5 238.0 L893.5 238.0 L894.5 400.0"/>
<path d="M877.5 400.0 L878.5 245.0 L884.5 245.0 L885.5 400.0"/>
<path d="M866.0 520.0 L867.0 268.4 L869.2 268.4 L870.2 520.0"/>
<path d="M959.0 400.0 L960.0 231.7 L962.9 231.7 L963.9 400.0"/>
</g>
<path d="M198.40 726.50 L229.43 726.50 L230.43 726.00 L261.46 726.00 L262.46 731.25 L277.48 731.25 L278.48 732.25 L293.49 732.25 L294.49 704.40 L301.50 704.40 L302.50 588.75 L309.51 588.75 L310.51 584.00 L317.52 584.00 L318.52 584.80 L325.53 584.80 L326.53 700.40 L333.53 700.40 L334.53 733.10 L341.54 733.10 L342.54 737.50 L349.55 737.50 L350.55 703.75 L365.56 703.75 L366.57 705.00 L373.57 705.00 L374.57 703.75 L389.59 703.75 L390.59 701.00 L397.60 701.00 L398.60 702.25 L421.62 702.25 L422.62 687.75 L429.63 687.75 L430.63 733.10 L437.63 733.10 L438.64 735.00 L453.65 735.00 L454.65 650.40 L469.67 650.40 L470.67 649.60 L477.67 649.60 L478.67 648.20 L485.68 648.20 L486.68 647.10 L493.69 647.10 L494.69 650.60 L501.70 650.60 L502.70 650.20 L509.71 650.20 L510.71 649.30 L517.71 649.30 L518.71 654.90 L525.72 654.90 L526.72 657.90 L533.73 657.90 L534.73 655.60 L541.74 655.60 L542.74 651.60 L549.74 651.60 L550.75 654.20 L557.75 654.20 L558.75 657.60 L565.76 657.60 L566.76 652.90 L573.77 652.90 L574.77 653.60 L581.78 653.60 L582.78 658.25 L589.78 658.25 L590.78 644.90 L597.79 644.90 L598.79 619.40 L605.80 619.40 L606.80 725.50 L613.81 725.50 L614.81 733.60 L645.84 733.60 L646.84 718.80 L653.85 718.80 L654.85 716.40 L677.87 716.40 L678.87 715.50 L693.89 715.50 L694.89 718.20 L709.90 718.20 L710.90 719.50 L773.96 719.50 L774.96 717.20 L789.98 717.20 L790.98 720.20 L805.99 720.20 L807.00 719.10 L838.03 719.10 L839.03 703.40 L846.03 703.40 L847.03 701.70 L854.04 701.70 L855.04 713.50 L862.05 713.50 L863.05 388.75 L870.06 388.75 L871.06 415.00 L886.07 415.00 L887.07 418.50 L894.08 418.50 L895.08 423.10 L902.09 423.10 L903.09 363.75 L910.10 363.75 L911.10 356.90 L918.10 356.90 L919.11 369.40 L926.11 369.40 L927.11 365.00 L934.12 365.00 L935.12 390.60 L942.13 390.60 L943.13 388.10 L950.14 388.10 L951.14 371.90 L958.14 371.90 L959.14 364.75 L966.15 364.75 L967.15 330.00 L974.16 330.00 L975.16 640.90 L982.17 640.90 L983.17 662.50 L990.17 662.50 L991.18 659.70 L998.18 659.70 L999.18 542.50 L1014.20 542.50 L1015.20 584.50 L1022.21 584.50 L1023.21 634.40 L1030.21 634.40 L1031.21 727.75 L1078.26 727.75 L1079.26 729.00 L1094.28 729.00 L1095.28 729.80 L1142.32 729.80 L1143.32 729.40 L1158.34 729.40 L1159.34 730.30 L1174.35 730.30 L1175.36 729.40 L1190.37 729.40 L1191.37 730.30 L1222.40 730.30" stroke="#df536b" stroke-width="3.2"/>
<path d="M198.40 727.25 L229.43 727.25 L230.43 726.50 L261.46 726.50 L262.46 730.25 L293.49 730.25 L294.49 709.40 L301.50 709.40 L302.50 534.60 L309.51 534.60 L310.51 538.75 L317.52 538.75 L318.52 542.00 L325.53 542.00 L326.53 651.25 L333.53 651.25 L334.53 738.00 L341.54 738.00 L342.54 735.60 L349.55 735.60 L350.55 705.60 L357.56 705.60 L358.56 704.75 L373.57 704.75 L374.57 706.25 L389.59 706.25 L390.59 698.75 L405.60 698.75 L406.60 676.90 L413.61 676.90 L414.61 671.90 L421.62 671.90 L422.62 695.00 L429.63 695.00 L430.63 726.90 L437.63 726.90 L438.64 737.50 L453.65 737.50 L454.65 643.10 L461.66 643.10 L462.66 638.20 L469.67 638.20 L470.67 662.90 L477.67 662.90 L478.67 664.50 L485.68 664.50 L486.68 654.20 L493.69 654.20 L494.69 656.25 L501.70 656.25 L502.70 651.60 L509.71 651.60 L510.71 650.20 L517.71 650.20 L518.71 640.80 L525.72 640.80 L526.72 650.90 L533.73 650.90 L534.73 658.25 L549.74 658.25 L550.75 654.60 L565.76 654.60 L566.76 656.90 L573.77 656.90 L574.77 653.60 L581.78 653.60 L582.78 639.50 L589.78 639.50 L590.78 638.20 L597.79 638.20 L598.79 620.60 L605.80 620.60 L606.80 719.10 L613.81 719.10 L614.81 735.60 L645.84 735.60 L646.84 727.10 L653.85 727.10 L654.85 726.60 L661.85 726.60 L662.85 724.90 L669.86 724.90 L670.86 722.20 L677.87 722.20 L678.87 712.40 L693.89 712.40 L694.89 713.50 L701.89 713.50 L702.89 712.50 L709.90 712.50 L710.90 717.80 L749.94 717.80 L750.94 716.00 L757.95 716.00 L758.95 718.60 L765.96 718.60 L766.96 717.80 L773.96 717.80 L774.96 714.20 L789.98 714.20 L790.98 721.50 L805.99 721.50 L807.00 717.50 L838.03 717.50 L839.03 704.80 L846.03 704.80 L847.03 704.10 L854.04 704.10 L855.04 712.10 L862.05 712.10 L863.05 513.40 L870.06 513.40 L871.06 378.75 L878.07 378.75 L879.07 370.25 L886.07 370.25 L887.07 364.40 L894.08 364.40 L895.08 442.50 L902.09 442.50 L903.09 436.90 L910.10 436.90 L911.10 442.50 L918.10 442.50 L919.11 423.10 L934.12 423.10 L935.12 265.30 L942.13 265.30 L943.13 263.75 L950.14 263.75 L951.14 290.30 L958.14 290.30 L959.14 288.75 L966.15 288.75 L967.15 504.60 L974.16 504.60 L975.16 693.40 L982.17 693.40 L983.17 675.60 L990.17 675.60 L991.18 672.80 L998.18 672.80 L999.18 545.00 L1014.20 545.00 L1015.20 586.00 L1022.21 586.00 L1023.21 601.10 L1030.21 601.10 L1031.21 725.10 L1046.23 725.10 L1047.23 730.20 L1062.24 730.20 L1063.25 724.50 L1078.26 724.50 L1079.26 727.00 L1110.29 727.00 L1111.29 728.10 L1142.32 728.10 L1143.32 727.30 L1158.34 727.30 L1159.34 728.40 L1174.35 728.40 L1175.36 726.90 L1190.37 726.90 L1191.37 728.40 L1206.39 728.40 L1207.39 727.70 L1222.40 727.70" stroke="#2297e6" stroke-width="3.2"/>
</g>
<g fill="none" stroke="#000" stroke-width="2" stroke-linecap="round" stroke-linejoin="round">
<rect x="157.44" y="157.44" width="1105.92" height="606.72"/>
<path d="M197.40 764.16 H1198.38"/>
<path d="M197.40 764.16 v19.2"/>
<path d="M397.60 764.16 v19.2"/>
<path d="M597.79 764.16 v19.2"/>
<path d="M797.99 764.16 v19.2"/>
<path d="M998.18 764.16 v19.2"/>
<path d="M1198.38 764.16 v19.2"/>
<path d="M157.44 741.80 V178.10"/>
<path d="M157.44 741.80 h-19.2"/>
<path d="M157.44 553.90 h-19.2"/>
<path d="M157.44 366.00 h-19.2"/>
<path d="M157.44 178.10 h-19.2"/>
</g>
<g opacity="0.999">
<g font-family="DejaVu Sans, Liberation Sans, sans-serif" font-size="32" fill="#000" text-anchor="middle">
<text x="197.40" y="832.8">0</text>
<text x="397.60" y="832.8">200</text>
<text x="597.79" y="832.8">400</text>
<text x="797.99" y="832.8">600</text>
<text x="998.18" y="832.8">800</text>
<text x="1198.38" y="832.8">1000</text>
<text transform="translate(111.4 741.80) rotate(-90)">0</text>
<text transform="translate(111.4 553.90) rotate(-90)">50</text>
<text transform="translate(111.4 366.00) rotate(-90)">100</text>
<text transform="translate(111.4 178.10) rotate(-90)">150</text>
<text transform="translate(35.2 461.30) rotate(-90)">x(median of all runs)</text>
</g>
<text font-family="DejaVu Sans, Liberation Sans, sans-serif" font-size="38.4" font-weight="bold" text-anchor="middle" x="710.40" y="92.1">split_smoothgaus_dwt</text>
<rect x="965" y="157.44" width="298.36" height="191.56" fill="#fff" stroke="#000" stroke-width="2"/>
<path d="M992.9 195.5 H1052.0" stroke="#000" stroke-width="2" stroke-linecap="butt"/>
<path d="M992.9 234.0 H1052.0" stroke="#df536b" stroke-width="2" stroke-linecap="butt"/>
<path d="M992.9 272.6 H1052.0" stroke="#2297e6" stroke-width="2" stroke-linecap="butt"/>
<path d="M992.9 311.0 H1052.0" stroke="#cccccc" stroke-width="2" stroke-linecap="butt"/>
<g font-family="DejaVu Sans, Liberation Sans, sans-serif" font-size="32" fill="#000">
<text x="1080.5" y="206.4">True mean</text>
<text x="1080.5" y="245.0">best fit</text>
<text x="1080.5" y="283.6">worst fit</text>
<text x="1080.5" y="321.7">all others</text>
</g>
</g>
</svg></body></html>
